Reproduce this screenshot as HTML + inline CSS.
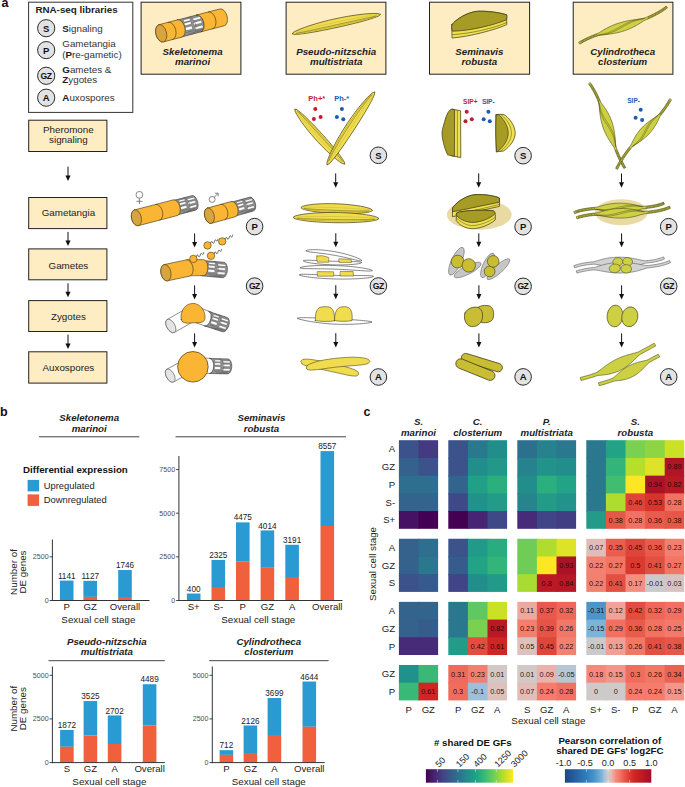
<!DOCTYPE html>
<html><head><meta charset="utf-8"><title>Figure</title>
<style>html,body{margin:0;padding:0;background:#fff;}svg{display:block;font-family:"Liberation Sans",sans-serif;}</style>
</head><body>
<svg width="685" height="787" viewBox="0 0 685 787">
<rect x="0" y="0" width="685" height="787" fill="#ffffff"/>
<text x="1.50" y="7.00" font-size="12.5" text-anchor="start" font-weight="bold" font-style="normal" fill="#111" >a</text>
<rect x="28.60" y="2.20" width="104.20" height="110.20" fill="#ffffff" stroke="#333" stroke-width="1" />
<text x="35.40" y="13.40" font-size="9.8" text-anchor="start" font-weight="bold" font-style="normal" fill="#222" >RNA-seq libraries</text>
<circle cx="46.20" cy="28.20" r="8.6" fill="#e2e2e2" stroke="#2a2a2a" stroke-width="1"/>
<text x="46.20" y="31.60" font-size="9.5" text-anchor="middle" font-weight="bold" font-style="normal" fill="#111" >S</text>
<circle cx="46.20" cy="50.10" r="8.6" fill="#e2e2e2" stroke="#2a2a2a" stroke-width="1"/>
<text x="46.20" y="53.50" font-size="9.5" text-anchor="middle" font-weight="bold" font-style="normal" fill="#111" >P</text>
<circle cx="46.20" cy="75.80" r="8.6" fill="#e2e2e2" stroke="#2a2a2a" stroke-width="1"/>
<text x="45.95" y="78.90" font-size="8.6" text-anchor="middle" font-weight="bold" font-style="normal" fill="#111" letter-spacing="-0.5">GZ</text>
<circle cx="46.20" cy="97.70" r="8.6" fill="#e2e2e2" stroke="#2a2a2a" stroke-width="1"/>
<text x="46.20" y="101.10" font-size="9.5" text-anchor="middle" font-weight="bold" font-style="normal" fill="#111" >A</text>
<text x="62.3" y="31.7" font-size="9.8" fill="#333"><tspan font-weight="bold" fill="#222">S</tspan>ignaling</text>
<text x="62.30" y="47.40" font-size="9.8" text-anchor="start" font-weight="normal" font-style="normal" fill="#333" >Gametangia</text>
<text x="62.3" y="57.8" font-size="9.8" fill="#333">(<tspan font-weight="bold" fill="#222">P</tspan>re-gametic)</text>
<text x="62.3" y="73.2" font-size="9.8" fill="#333"><tspan font-weight="bold" fill="#222">G</tspan>ametes &amp;</text>
<text x="62.3" y="83.4" font-size="9.8" fill="#333"><tspan font-weight="bold" fill="#222">Z</tspan>ygotes</text>
<text x="62.3" y="100.6" font-size="9.8" fill="#333"><tspan font-weight="bold" fill="#222">A</tspan>uxospores</text>
<rect x="28.70" y="120.20" width="78.20" height="31.30" fill="#feecc2" stroke="#222" stroke-width="1" />
<text x="68.40" y="132.50" font-size="9.8" text-anchor="middle" font-weight="normal" font-style="normal" fill="#222" >Pheromone</text>
<text x="68.40" y="142.80" font-size="9.8" text-anchor="middle" font-weight="normal" font-style="normal" fill="#222" >signaling</text>
<line x1="68.00" y1="166.60" x2="68.00" y2="176.50" stroke="#111" stroke-width="1.0" />
<path d="M65.40,175.50 L70.60,175.50 L68.00,181.00 Z" fill="#111"/>
<rect x="28.70" y="197.50" width="78.20" height="31.10" fill="#feecc2" stroke="#222" stroke-width="1" />
<text x="68.40" y="215.70" font-size="9.8" text-anchor="middle" font-weight="normal" font-style="normal" fill="#222" >Gametangia</text>
<rect x="28.70" y="248.90" width="78.20" height="30.90" fill="#feecc2" stroke="#222" stroke-width="1" />
<text x="68.40" y="268.60" font-size="9.8" text-anchor="middle" font-weight="normal" font-style="normal" fill="#222" >Gametes</text>
<rect x="28.70" y="300.60" width="78.20" height="30.90" fill="#feecc2" stroke="#222" stroke-width="1" />
<text x="68.40" y="319.80" font-size="9.8" text-anchor="middle" font-weight="normal" font-style="normal" fill="#222" >Zygotes</text>
<rect x="28.70" y="351.80" width="78.20" height="31.30" fill="#feecc2" stroke="#222" stroke-width="1" />
<text x="68.40" y="371.20" font-size="9.8" text-anchor="middle" font-weight="normal" font-style="normal" fill="#222" >Auxospores</text>
<line x1="68.00" y1="231.90" x2="68.00" y2="241.50" stroke="#111" stroke-width="1.0" />
<path d="M65.40,240.50 L70.60,240.50 L68.00,246.00 Z" fill="#111"/>
<line x1="68.00" y1="283.30" x2="68.00" y2="292.70" stroke="#111" stroke-width="1.0" />
<path d="M65.40,291.70 L70.60,291.70 L68.00,297.20 Z" fill="#111"/>
<line x1="68.00" y1="334.70" x2="68.00" y2="344.50" stroke="#111" stroke-width="1.0" />
<path d="M65.40,343.50 L70.60,343.50 L68.00,349.00 Z" fill="#111"/>
<rect x="141.10" y="2.20" width="99.80" height="72.00" fill="#feecc2" stroke="#222" stroke-width="1" />
<text x="192.60" y="55.20" font-size="9.72" text-anchor="middle" font-weight="bold" font-style="italic" fill="#222" >Skeletonema</text>
<text x="192.60" y="65.40" font-size="9.72" text-anchor="middle" font-weight="bold" font-style="italic" fill="#222" >marinoi</text>
<rect x="286.10" y="2.20" width="99.80" height="72.00" fill="#feecc2" stroke="#222" stroke-width="1" />
<text x="336.20" y="55.20" font-size="9.72" text-anchor="middle" font-weight="bold" font-style="italic" fill="#222" >Pseudo-nitzschia</text>
<text x="336.20" y="65.40" font-size="9.72" text-anchor="middle" font-weight="bold" font-style="italic" fill="#222" >multistriata</text>
<rect x="429.50" y="2.20" width="100.10" height="72.00" fill="#feecc2" stroke="#222" stroke-width="1" />
<text x="479.40" y="55.20" font-size="9.72" text-anchor="middle" font-weight="bold" font-style="italic" fill="#222" >Seminavis</text>
<text x="479.40" y="65.40" font-size="9.72" text-anchor="middle" font-weight="bold" font-style="italic" fill="#222" >robusta</text>
<rect x="573.20" y="2.20" width="99.70" height="72.00" fill="#feecc2" stroke="#222" stroke-width="1" />
<text x="622.70" y="55.20" font-size="9.72" text-anchor="middle" font-weight="bold" font-style="italic" fill="#222" >Cylindrotheca</text>
<text x="622.70" y="65.40" font-size="9.72" text-anchor="middle" font-weight="bold" font-style="italic" fill="#222" >closterium</text>
<g transform="translate(179.58,28.49) rotate(-14.66)">
<path d="M0,-8.7 L20,-8.7 A5.22,8.7 0 0 1 20,8.7 L0,8.7 A5.22,8.7 0 0 1 0,-8.7 Z" fill="#909090" stroke="#3c3c3c" stroke-width="0.6" stroke-linejoin="round" stroke-linecap="round" />
<rect x="5.55" y="-7.31" width="7.06" height="2.26" rx="0.9" fill="#ffffff" stroke="#3c3c3c" stroke-width="0.35"/>
<rect x="5.55" y="-4" width="7.06" height="2.78" rx="0.9" fill="#ffffff" stroke="#3c3c3c" stroke-width="0.35"/>
<rect x="5.55" y="0.52" width="7.06" height="3.31" rx="0.9" fill="#ffffff" stroke="#3c3c3c" stroke-width="0.35"/>
<rect x="14.63" y="-6.44" width="8.57" height="2.44" rx="0.9" fill="#ffffff" stroke="#3c3c3c" stroke-width="0.35"/>
<rect x="14.63" y="-2.44" width="8.57" height="2.78" rx="0.9" fill="#ffffff" stroke="#3c3c3c" stroke-width="0.35"/>
<rect x="14.63" y="2.44" width="8.57" height="2.78" rx="0.9" fill="#ffffff" stroke="#3c3c3c" stroke-width="0.35"/>
<line x1="5.55" y1="5.74" x2="13.87" y2="5.39" stroke="#4a4a4a" stroke-width="0.4"/>
<line x1="14.63" y1="6.79" x2="23.45" y2="6.44" stroke="#4a4a4a" stroke-width="0.4"/>
<line x1="7.57" y1="7.83" x2="20.18" y2="7.48" stroke="#4a4a4a" stroke-width="0.4"/>
<path d="M11.28,-8.7 A5.22,8.7 0 0 1 11.28,8.7" fill="none" stroke="#555" stroke-width="0.45" stroke-linejoin="round" stroke-linecap="round" />
</g>
<g transform="translate(198.63,23.43) rotate(-14.48)">
<path d="M0,-8.7 L24.14,-8.7 A5.22,8.7 0 0 1 24.14,8.7 L0,8.7 A5.22,8.7 0 0 0 0,-8.7 Z" fill="#f9b533" stroke="#4a3a12" stroke-width="0.6" stroke-linejoin="round" stroke-linecap="round" />
<path d="M12.3,-8.7 A5.22,8.7 0 0 1 12.3,8.7" fill="none" stroke="#4a3a12" stroke-width="0.6" stroke-linejoin="round" stroke-linecap="round" />
</g>
<g transform="translate(161.2,33.3) rotate(-14.66)">
<path d="M0,-8.9 L19,-8.9 A5.34,8.9 0 0 1 19,8.9 L0,8.9 A5.34,8.9 0 0 1 0,-8.9 Z" fill="#f9b533" stroke="#4a3a12" stroke-width="0.6" stroke-linejoin="round" stroke-linecap="round" />
<path d="M9.6,-8.9 A5.34,8.9 0 0 1 9.6,8.9" fill="none" stroke="#4a3a12" stroke-width="0.6" stroke-linejoin="round" stroke-linecap="round" />
<ellipse cx="0" cy="0" rx="5.34" ry="8.9" fill="#d8a440" stroke="#4a3a12" stroke-width="0.6"  />
</g>
<circle cx="139.4" cy="194.8" r="3.4" fill="none" stroke="#555" stroke-width="0.7" />
<path d="M139.4,198.2 L139.4,204.2 M136.4,201.3 L142.4,201.3" stroke="#555" stroke-width="0.7" fill="none"/>
<circle cx="212.1" cy="199.4" r="3" fill="none" stroke="#555" stroke-width="0.7" />
<path d="M214.3,197.2 L217.9,193.4 M214.9,193.2 L218.1,193.2 L218.1,196.4" stroke="#555" stroke-width="0.7" fill="none"/>
<g transform="translate(175.12,207.76) rotate(-14.54)">
<path d="M0,-7.5 L19.2,-7.5 A4.12,7.5 0 0 1 19.2,7.5 L0,7.5 A4.12,7.5 0 0 1 0,-7.5 Z" fill="#909090" stroke="#3c3c3c" stroke-width="0.6" stroke-linejoin="round" stroke-linecap="round" />
<rect x="5.13" y="-6.3" width="6.53" height="1.95" rx="0.9" fill="#ffffff" stroke="#3c3c3c" stroke-width="0.35"/>
<rect x="5.13" y="-3.45" width="6.53" height="2.4" rx="0.9" fill="#ffffff" stroke="#3c3c3c" stroke-width="0.35"/>
<rect x="5.13" y="0.45" width="6.53" height="2.85" rx="0.9" fill="#ffffff" stroke="#3c3c3c" stroke-width="0.35"/>
<rect x="13.53" y="-5.55" width="7.93" height="2.1" rx="0.9" fill="#ffffff" stroke="#3c3c3c" stroke-width="0.35"/>
<rect x="13.53" y="-2.1" width="7.93" height="2.4" rx="0.9" fill="#ffffff" stroke="#3c3c3c" stroke-width="0.35"/>
<rect x="13.53" y="2.1" width="7.93" height="2.4" rx="0.9" fill="#ffffff" stroke="#3c3c3c" stroke-width="0.35"/>
<line x1="5.13" y1="4.95" x2="12.83" y2="4.65" stroke="#4a4a4a" stroke-width="0.4"/>
<line x1="13.53" y1="5.85" x2="21.69" y2="5.55" stroke="#4a4a4a" stroke-width="0.4"/>
<line x1="7" y1="6.75" x2="18.66" y2="6.45" stroke="#4a4a4a" stroke-width="0.4"/>
<path d="M10.71,-7.5 A4.12,7.5 0 0 1 10.71,7.5" fill="none" stroke="#555" stroke-width="0.45" stroke-linejoin="round" stroke-linecap="round" />
</g>
<g transform="translate(136.4,217.8) rotate(-14.54)">
<path d="M0,-8.1 L40,-8.1 A4.86,8.1 0 0 1 40,8.1 L0,8.1 A4.86,8.1 0 0 1 0,-8.1 Z" fill="#f9b533" stroke="#4a3a12" stroke-width="0.6" stroke-linejoin="round" stroke-linecap="round" />
<path d="M22,-8.1 A4.86,8.1 0 0 1 22,8.1" fill="none" stroke="#4a3a12" stroke-width="0.6" stroke-linejoin="round" stroke-linecap="round" />
<ellipse cx="0" cy="0" rx="4.86" ry="8.1" fill="#d8a440" stroke="#4a3a12" stroke-width="0.6"  />
</g>
<g transform="translate(233.12,209.18) rotate(-15.36)">
<path d="M0,-7.2 L19,-7.2 A3.96,7.2 0 0 1 19,7.2 L0,7.2 A3.96,7.2 0 0 1 0,-7.2 Z" fill="#909090" stroke="#3c3c3c" stroke-width="0.6" stroke-linejoin="round" stroke-linecap="round" />
<rect x="5.05" y="-6.05" width="6.43" height="1.87" rx="0.9" fill="#ffffff" stroke="#3c3c3c" stroke-width="0.35"/>
<rect x="5.05" y="-3.31" width="6.43" height="2.3" rx="0.9" fill="#ffffff" stroke="#3c3c3c" stroke-width="0.35"/>
<rect x="5.05" y="0.43" width="6.43" height="2.74" rx="0.9" fill="#ffffff" stroke="#3c3c3c" stroke-width="0.35"/>
<rect x="13.32" y="-5.33" width="7.81" height="2.02" rx="0.9" fill="#ffffff" stroke="#3c3c3c" stroke-width="0.35"/>
<rect x="13.32" y="-2.02" width="7.81" height="2.3" rx="0.9" fill="#ffffff" stroke="#3c3c3c" stroke-width="0.35"/>
<rect x="13.32" y="2.02" width="7.81" height="2.3" rx="0.9" fill="#ffffff" stroke="#3c3c3c" stroke-width="0.35"/>
<line x1="5.05" y1="4.75" x2="12.63" y2="4.46" stroke="#4a4a4a" stroke-width="0.4"/>
<line x1="13.32" y1="5.62" x2="21.35" y2="5.33" stroke="#4a4a4a" stroke-width="0.4"/>
<line x1="6.89" y1="6.48" x2="18.37" y2="6.19" stroke="#4a4a4a" stroke-width="0.4"/>
<path d="M10.58,-7.2 A3.96,7.2 0 0 1 10.58,7.2" fill="none" stroke="#555" stroke-width="0.45" stroke-linejoin="round" stroke-linecap="round" />
</g>
<g transform="translate(209.4,215.7) rotate(-15.36)">
<path d="M0,-7.9 L24.6,-7.9 A4.74,7.9 0 0 1 24.6,7.9 L0,7.9 A4.74,7.9 0 0 1 0,-7.9 Z" fill="#f9b533" stroke="#4a3a12" stroke-width="0.6" stroke-linejoin="round" stroke-linecap="round" />
<path d="M14,-7.9 A4.74,7.9 0 0 1 14,7.9" fill="none" stroke="#4a3a12" stroke-width="0.6" stroke-linejoin="round" stroke-linecap="round" />
<ellipse cx="0" cy="0" rx="4.74" ry="7.9" fill="#d8a440" stroke="#4a3a12" stroke-width="0.6"  />
</g>
<circle cx="254.6" cy="226.6" r="8.3" fill="#e2e2e2" stroke="#2a2a2a" stroke-width="1"/>
<text x="254.6" y="230" font-size="9.5" text-anchor="middle" font-weight="bold" fill="#111">P</text>
<line x1="194.6" y1="233.4" x2="194.6" y2="243" stroke="#111" stroke-width="1.0"/>
<path d="M192.1,242 L197.1,242 L194.6,247.5 Z" fill="#111"/>
<path d="M210.65,243.37 c0.3,-2.4 1.4,-2.4 1.9,-0.9 s1.5,0.9 2.0,-1.2 s1.3,-1.3 2.1,-0.5 s1.0,-0.6 1.3,-1.7" fill="none" stroke="#444" stroke-width="0.85" stroke-linejoin="round" stroke-linecap="round" />
<circle cx="207.5" cy="245.4" r="3.7" fill="#f9b533" stroke="#4a3a12" stroke-width="0.6" />
<path d="M225.34,239.37 c0.3,-2.4 1.4,-2.4 1.9,-0.9 s1.5,0.9 2.0,-1.2 s1.3,-1.3 2.1,-0.5 s1.0,-0.6 1.3,-1.7" fill="none" stroke="#444" stroke-width="0.85" stroke-linejoin="round" stroke-linecap="round" />
<circle cx="222.2" cy="241.4" r="3.7" fill="#f9b533" stroke="#4a3a12" stroke-width="0.6" />
<path d="M214.15,253.77 c0.3,-2.4 1.4,-2.4 1.9,-0.9 s1.5,0.9 2.0,-1.2 s1.3,-1.3 2.1,-0.5 s1.0,-0.6 1.3,-1.7" fill="none" stroke="#444" stroke-width="0.85" stroke-linejoin="round" stroke-linecap="round" />
<circle cx="211" cy="255.8" r="3.7" fill="#f9b533" stroke="#4a3a12" stroke-width="0.6" />
<g transform="translate(202.6,268.2) rotate(4.99)">
<path d="M0,-7.7 L20.68,-7.7 A4.24,7.7 0 0 1 20.68,7.7 L0,7.7 A4.24,7.7 0 0 1 0,-7.7 Z" fill="#909090" stroke="#3c3c3c" stroke-width="0.6" stroke-linejoin="round" stroke-linecap="round" />
<rect x="5.48" y="-6.47" width="6.98" height="2" rx="0.9" fill="#ffffff" stroke="#3c3c3c" stroke-width="0.35"/>
<rect x="5.48" y="-3.54" width="6.98" height="2.46" rx="0.9" fill="#ffffff" stroke="#3c3c3c" stroke-width="0.35"/>
<rect x="5.48" y="0.46" width="6.98" height="2.93" rx="0.9" fill="#ffffff" stroke="#3c3c3c" stroke-width="0.35"/>
<rect x="14.45" y="-5.7" width="8.47" height="2.16" rx="0.9" fill="#ffffff" stroke="#3c3c3c" stroke-width="0.35"/>
<rect x="14.45" y="-2.16" width="8.47" height="2.46" rx="0.9" fill="#ffffff" stroke="#3c3c3c" stroke-width="0.35"/>
<rect x="14.45" y="2.16" width="8.47" height="2.46" rx="0.9" fill="#ffffff" stroke="#3c3c3c" stroke-width="0.35"/>
<line x1="5.48" y1="5.08" x2="13.7" y2="4.77" stroke="#4a4a4a" stroke-width="0.4"/>
<line x1="14.45" y1="6.01" x2="23.17" y2="5.7" stroke="#4a4a4a" stroke-width="0.4"/>
<line x1="7.47" y1="6.93" x2="19.93" y2="6.62" stroke="#4a4a4a" stroke-width="0.4"/>
<path d="M11.51,-7.7 A4.24,7.7 0 0 1 11.51,7.7" fill="none" stroke="#555" stroke-width="0.45" stroke-linejoin="round" stroke-linecap="round" />
</g>
<g transform="translate(187,267.8) rotate(-0.7)">
<path d="M0,-8 L16.4,-8 A4.4,8 0 0 1 16.4,8 L0,8 A4.4,8 0 0 0 0,-8 Z" fill="#f9b533" stroke="#4a3a12" stroke-width="0.6" stroke-linejoin="round" stroke-linecap="round" />
</g>
<g transform="translate(165.9,272.7) rotate(-12.01)">
<path d="M0,-8.3 L22.59,-8.3 A4.98,8.3 0 0 1 22.59,8.3 L0,8.3 A4.98,8.3 0 0 1 0,-8.3 Z" fill="#f9b533" stroke="#4a3a12" stroke-width="0.6" stroke-linejoin="round" stroke-linecap="round" />
<ellipse cx="0" cy="0" rx="4.98" ry="8.3" fill="#d8a440" stroke="#4a3a12" stroke-width="0.6"  />
</g>
<path d="M196.45,256.86 c0.3,-2.4 1.4,-2.4 1.9,-0.9 s1.5,0.9 2.0,-1.2 s1.3,-1.3 2.1,-0.5 s1.0,-0.6 1.3,-1.7" fill="none" stroke="#444" stroke-width="0.85" stroke-linejoin="round" stroke-linecap="round" />
<circle cx="193.3" cy="258.9" r="3.7" fill="#f9b533" stroke="#4a3a12" stroke-width="0.6" />
<circle cx="254.6" cy="286.1" r="8.3" fill="#e2e2e2" stroke="#2a2a2a" stroke-width="1"/>
<text x="254.4" y="289.2" font-size="8.6" text-anchor="middle" font-weight="bold" fill="#111" letter-spacing="-0.5">GZ</text>
<line x1="194.6" y1="285.4" x2="194.6" y2="295.1" stroke="#111" stroke-width="1.0"/>
<path d="M192.1,294.1 L197.1,294.1 L194.6,299.6 Z" fill="#111"/>
<g transform="translate(198,315.4) rotate(19.72)">
<path d="M0,-7.6 L11.26,-7.6 A4.18,7.6 0 0 1 11.26,7.6 L0,7.6 A4.18,7.6 0 0 0 0,-7.6 Z" fill="#ffffff" stroke="#555" stroke-width="0.6" stroke-linejoin="round" stroke-linecap="round" />
</g>
<g transform="translate(206.6,318.7) rotate(17.96)">
<path d="M0,-7.5 L19.13,-7.5 A4.12,7.5 0 0 1 19.13,7.5 L0,7.5 A4.12,7.5 0 0 0 0,-7.5 Z" fill="#909090" stroke="#3c3c3c" stroke-width="0.6" stroke-linejoin="round" stroke-linecap="round" />
<rect x="5.12" y="-6.3" width="6.51" height="1.95" rx="0.9" fill="#ffffff" stroke="#3c3c3c" stroke-width="0.35"/>
<rect x="5.12" y="-3.45" width="6.51" height="2.4" rx="0.9" fill="#ffffff" stroke="#3c3c3c" stroke-width="0.35"/>
<rect x="5.12" y="0.45" width="6.51" height="2.85" rx="0.9" fill="#ffffff" stroke="#3c3c3c" stroke-width="0.35"/>
<rect x="13.49" y="-5.55" width="7.91" height="2.1" rx="0.9" fill="#ffffff" stroke="#3c3c3c" stroke-width="0.35"/>
<rect x="13.49" y="-2.1" width="7.91" height="2.4" rx="0.9" fill="#ffffff" stroke="#3c3c3c" stroke-width="0.35"/>
<rect x="13.49" y="2.1" width="7.91" height="2.4" rx="0.9" fill="#ffffff" stroke="#3c3c3c" stroke-width="0.35"/>
<line x1="5.12" y1="4.95" x2="12.79" y2="4.65" stroke="#4a4a4a" stroke-width="0.4"/>
<line x1="13.49" y1="5.85" x2="21.63" y2="5.55" stroke="#4a4a4a" stroke-width="0.4"/>
<line x1="6.98" y1="6.75" x2="18.61" y2="6.45" stroke="#4a4a4a" stroke-width="0.4"/>
<path d="M10.68,-7.5 A4.12,7.5 0 0 1 10.68,7.5" fill="none" stroke="#555" stroke-width="0.45" stroke-linejoin="round" stroke-linecap="round" />
</g>
<g transform="translate(170.8,326) rotate(-29.81)">
<path d="M0,-7.4 L22.13,-7.4 A4.07,7.4 0 0 1 22.13,7.4 L0,7.4 A4.07,7.4 0 0 1 0,-7.4 Z" fill="#ffffff" stroke="#555" stroke-width="0.6" stroke-linejoin="round" stroke-linecap="round" />
<ellipse cx="0" cy="0" rx="4.07" ry="7.4" fill="#e4e4e4" stroke="#555" stroke-width="0.6"  />
</g>
<path d="M181.2,319.4 C180.0,311.6 184.6,303.6 193.0,303.4 C200.0,303.4 205.6,310.6 205.0,318.2 C204.6,323.4 198.6,322.6 193.6,322.8 C188.6,323.0 182.2,324.4 181.2,319.4 Z" fill="#f9b533" stroke="#4a3a12" stroke-width="0.6" stroke-linejoin="round" stroke-linecap="round" />
<line x1="194.6" y1="333.4" x2="194.6" y2="343.1" stroke="#111" stroke-width="1.0"/>
<path d="M192.1,342.1 L197.1,342.1 L194.6,347.6 Z" fill="#111"/>
<g transform="translate(200,365.4) rotate(2.86)">
<path d="M0,-7.6 L10.01,-7.6 A4.18,7.6 0 0 1 10.01,7.6 L0,7.6 A4.18,7.6 0 0 0 0,-7.6 Z" fill="#ffffff" stroke="#555" stroke-width="0.6" stroke-linejoin="round" stroke-linecap="round" />
</g>
<g transform="translate(209.6,366) rotate(1.27)">
<path d="M0,-7.5 L18.1,-7.5 A4.12,7.5 0 0 1 18.1,7.5 L0,7.5 A4.12,7.5 0 0 0 0,-7.5 Z" fill="#909090" stroke="#3c3c3c" stroke-width="0.6" stroke-linejoin="round" stroke-linecap="round" />
<rect x="4.89" y="-6.3" width="6.22" height="1.95" rx="0.9" fill="#ffffff" stroke="#3c3c3c" stroke-width="0.35"/>
<rect x="4.89" y="-3.45" width="6.22" height="2.4" rx="0.9" fill="#ffffff" stroke="#3c3c3c" stroke-width="0.35"/>
<rect x="4.89" y="0.45" width="6.22" height="2.85" rx="0.9" fill="#ffffff" stroke="#3c3c3c" stroke-width="0.35"/>
<rect x="12.89" y="-5.55" width="7.56" height="2.1" rx="0.9" fill="#ffffff" stroke="#3c3c3c" stroke-width="0.35"/>
<rect x="12.89" y="-2.1" width="7.56" height="2.4" rx="0.9" fill="#ffffff" stroke="#3c3c3c" stroke-width="0.35"/>
<rect x="12.89" y="2.1" width="7.56" height="2.4" rx="0.9" fill="#ffffff" stroke="#3c3c3c" stroke-width="0.35"/>
<line x1="4.89" y1="4.95" x2="12.23" y2="4.65" stroke="#4a4a4a" stroke-width="0.4"/>
<line x1="12.89" y1="5.85" x2="20.67" y2="5.55" stroke="#4a4a4a" stroke-width="0.4"/>
<line x1="6.67" y1="6.75" x2="17.78" y2="6.45" stroke="#4a4a4a" stroke-width="0.4"/>
<path d="M10.13,-7.5 A4.12,7.5 0 0 1 10.13,7.5" fill="none" stroke="#555" stroke-width="0.45" stroke-linejoin="round" stroke-linecap="round" />
</g>
<g transform="translate(170.2,375.6) rotate(-28.56)">
<path d="M0,-7.2 L17.99,-7.2 A3.96,7.2 0 0 1 17.99,7.2 L0,7.2 A3.96,7.2 0 0 1 0,-7.2 Z" fill="#ffffff" stroke="#555" stroke-width="0.6" stroke-linejoin="round" stroke-linecap="round" />
<ellipse cx="0" cy="0" rx="3.96" ry="7.2" fill="#e4e4e4" stroke="#555" stroke-width="0.6"  />
</g>
<circle cx="192.9" cy="366.8" r="15.3" fill="#f9b533" stroke="#4a3a12" stroke-width="0.7" />
<path d="M292,33.8 L294.5,34.38 L296.83,34.32 L299.12,34.15 L301.4,33.91 L303.66,33.63 L305.92,33.32 L308.16,32.98 L310.4,32.62 L312.64,32.25 L314.87,31.86 L317.1,31.46 L319.32,31.04 L321.54,30.62 L323.76,30.19 L325.98,29.74 L328.19,29.29 L330.4,28.84 L332.61,28.37 L334.82,27.9 L337.03,27.42 L339.23,26.93 L341.44,26.44 L343.64,25.94 L345.84,25.43 L348.04,24.91 L350.23,24.39 L352.43,23.86 L354.63,23.31 L356.82,22.76 L359.01,22.19 L361.2,21.61 L363.39,21.02 L365.57,20.41 L367.76,19.78 L369.93,19.12 L372.11,18.43 L374.28,17.7 L376.43,16.89 L378.57,15.97 L380.6,14.4 L380.6,14.4 L378.16,13.61 L375.83,13.48 L373.52,13.47 L371.22,13.55 L368.93,13.67 L366.65,13.85 L364.37,14.05 L362.1,14.29 L359.83,14.55 L357.57,14.84 L355.31,15.15 L353.06,15.49 L350.8,15.84 L348.56,16.21 L346.31,16.6 L344.07,17.01 L341.83,17.44 L339.6,17.88 L337.37,18.35 L335.14,18.82 L332.92,19.32 L330.7,19.83 L328.49,20.36 L326.28,20.91 L324.07,21.47 L321.87,22.06 L319.67,22.66 L317.48,23.28 L315.29,23.92 L313.11,24.58 L310.93,25.26 L308.76,25.97 L306.6,26.7 L304.44,27.47 L302.3,28.26 L300.17,29.1 L298.05,30 L295.95,30.96 L293.89,32.06 L292,33.8 Z" fill="#f0dc4c" stroke="#3c3a12" stroke-width="0.7" stroke-linejoin="round" />
<path d="M296.68,33.75 L298.94,33.45 L301.19,33.1 L303.43,32.72 L305.67,32.32 L307.9,31.91 L310.13,31.49 L312.35,31.06 L314.57,30.62 L316.79,30.17 L319.01,29.72 L321.23,29.27 L323.44,28.8 L325.65,28.34 L327.87,27.87 L330.08,27.4 L332.29,26.92 L334.5,26.44 L336.71,25.96 L338.92,25.47 L341.12,24.99 L343.33,24.49 L345.54,24 L347.74,23.5 L349.95,23 L352.15,22.49 L354.36,21.98 L356.56,21.47 L358.76,20.94 L360.97,20.41 L363.17,19.88 L365.37,19.33 L367.57,18.77 L369.76,18.2 L371.96,17.6 L374.15,16.98 L376.33,16.31" fill="none" stroke="#c4b434" stroke-width="0.9" stroke-linecap="round" stroke-linejoin="round" />
<path d="M296.56,33.28 L298.79,32.86 L301.02,32.42 L303.24,31.97 L305.46,31.5 L307.68,31.03 L309.9,30.56 L312.11,30.08 L314.32,29.6 L316.54,29.12 L318.75,28.63 L320.96,28.15 L323.18,27.67 L325.39,27.18 L327.6,26.7 L329.81,26.21 L332.02,25.73 L334.23,25.24 L336.44,24.76 L338.66,24.27 L340.87,23.79 L343.08,23.31 L345.29,22.82 L347.5,22.34 L349.71,21.85 L351.93,21.37 L354.14,20.89 L356.35,20.4 L358.56,19.91 L360.78,19.43 L362.99,18.93 L365.2,18.44 L367.41,17.94 L369.62,17.43 L371.83,16.92 L374.04,16.39 L376.24,15.83" fill="none" stroke="#5a5518" stroke-width="0.5" stroke-linecap="round" stroke-linejoin="round" />
<path d="M296.3,32.31 L298.48,31.66 L300.66,31.03 L302.85,30.41 L305.03,29.81 L307.23,29.21 L309.42,28.63 L311.61,28.05 L313.81,27.49 L316.01,26.93 L318.22,26.38 L320.42,25.84 L322.63,25.31 L324.83,24.78 L327.04,24.26 L329.25,23.75 L331.47,23.25 L333.68,22.75 L335.9,22.26 L338.12,21.78 L340.33,21.31 L342.56,20.84 L344.78,20.38 L347,19.93 L349.23,19.48 L351.45,19.05 L353.68,18.62 L355.91,18.2 L358.15,17.78 L360.38,17.38 L362.61,16.98 L364.85,16.6 L367.09,16.22 L369.33,15.85 L371.57,15.5 L373.82,15.16 L376.07,14.84" fill="none" stroke="#b3a630" stroke-width="0.35" stroke-linecap="round" stroke-linejoin="round" />
<text x="316.8" y="101.4" font-size="7.5" font-weight="bold" fill="#bf1e2e" text-anchor="middle">Ph+*</text>
<text x="341.7" y="101.4" font-size="7.5" font-weight="bold" fill="#1c5bb4" text-anchor="middle">Ph-*</text>
<circle cx="315.3" cy="109.1" r="2" fill="#bf1e2e" stroke="none" stroke-width="0.7" />
<circle cx="313.9" cy="118.9" r="2" fill="#bf1e2e" stroke="none" stroke-width="0.7" />
<circle cx="320.6" cy="117.1" r="2" fill="#bf1e2e" stroke="none" stroke-width="0.7" />
<circle cx="341.9" cy="109.1" r="2" fill="#1c5bb4" stroke="none" stroke-width="0.7" />
<circle cx="336.9" cy="117.1" r="2" fill="#1c5bb4" stroke="none" stroke-width="0.7" />
<circle cx="343.3" cy="119.2" r="2" fill="#1c5bb4" stroke="none" stroke-width="0.7" />
<path d="M294.8,109 L295.12,111.16 L295.92,112.93 L296.82,114.61 L297.78,116.24 L298.78,117.85 L299.81,119.42 L300.86,120.98 L301.94,122.52 L303.04,124.04 L304.15,125.55 L305.29,127.04 L306.44,128.52 L307.6,129.99 L308.77,131.45 L309.96,132.89 L311.16,134.33 L312.38,135.75 L313.61,137.16 L314.84,138.56 L316.09,139.96 L317.36,141.34 L318.63,142.71 L319.91,144.07 L321.21,145.42 L322.52,146.76 L323.84,148.08 L325.18,149.4 L326.52,150.7 L327.88,151.98 L329.26,153.26 L330.65,154.52 L332.05,155.76 L333.48,156.99 L334.92,158.19 L336.39,159.37 L337.89,160.52 L339.42,161.64 L341,162.7 L342.68,163.67 L344.8,164.2 L344.8,164.2 L344.31,162.07 L343.37,160.38 L342.35,158.78 L341.29,157.22 L340.19,155.7 L339.07,154.2 L337.94,152.71 L336.79,151.25 L335.63,149.79 L334.45,148.35 L333.27,146.91 L332.08,145.49 L330.88,144.07 L329.68,142.66 L328.47,141.25 L327.25,139.85 L326.03,138.46 L324.8,137.07 L323.56,135.69 L322.32,134.32 L321.07,132.95 L319.82,131.58 L318.56,130.22 L317.3,128.87 L316.03,127.52 L314.75,126.17 L313.46,124.83 L312.17,123.5 L310.87,122.18 L309.56,120.86 L308.23,119.55 L306.9,118.25 L305.55,116.96 L304.19,115.69 L302.81,114.42 L301.4,113.18 L299.95,111.97 L298.46,110.8 L296.87,109.7 L294.8,109 Z" fill="#f0dc4c" stroke="#3c3a12" stroke-width="0.7" stroke-linejoin="round" />
<path d="M298.03,111.16 L299.42,112.42 L300.78,113.7 L302.12,115.01 L303.44,116.32 L304.76,117.64 L306.06,118.98 L307.35,120.31 L308.64,121.66 L309.92,123 L311.19,124.36 L312.47,125.71 L313.73,127.07 L314.99,128.43 L316.25,129.79 L317.51,131.16 L318.76,132.53 L320.01,133.9 L321.26,135.28 L322.51,136.65 L323.75,138.03 L324.99,139.41 L326.22,140.8 L327.46,142.19 L328.69,143.58 L329.91,144.97 L331.14,146.37 L332.36,147.77 L333.57,149.18 L334.78,150.59 L335.98,152.01 L337.18,153.44 L338.37,154.88 L339.55,156.32 L340.71,157.78 L341.85,159.27 L342.97,160.78" fill="none" stroke="#c4b434" stroke-width="0.9" stroke-linecap="round" stroke-linejoin="round" />
<path d="M297.67,111.46 L298.98,112.79 L300.27,114.13 L301.56,115.48 L302.83,116.84 L304.1,118.21 L305.36,119.57 L306.62,120.94 L307.88,122.31 L309.14,123.68 L310.39,125.06 L311.64,126.43 L312.9,127.81 L314.15,129.18 L315.4,130.56 L316.65,131.93 L317.89,133.31 L319.14,134.69 L320.39,136.07 L321.64,137.44 L322.88,138.82 L324.13,140.2 L325.38,141.58 L326.62,142.96 L327.87,144.34 L329.11,145.72 L330.36,147.1 L331.6,148.48 L332.84,149.87 L334.08,151.26 L335.32,152.65 L336.56,154.04 L337.79,155.43 L339.01,156.84 L340.23,158.25 L341.44,159.67 L342.64,161.1" fill="none" stroke="#5a5518" stroke-width="0.5" stroke-linecap="round" stroke-linejoin="round" />
<path d="M296.93,112.07 L298.07,113.55 L299.22,115.02 L300.39,116.48 L301.56,117.93 L302.74,119.37 L303.92,120.81 L305.12,122.24 L306.32,123.67 L307.52,125.09 L308.73,126.51 L309.94,127.93 L311.16,129.34 L312.39,130.74 L313.62,132.14 L314.85,133.54 L316.09,134.93 L317.34,136.32 L318.58,137.7 L319.84,139.08 L321.1,140.46 L322.36,141.83 L323.63,143.19 L324.9,144.55 L326.18,145.91 L327.46,147.26 L328.75,148.61 L330.04,149.96 L331.34,151.29 L332.64,152.63 L333.95,153.96 L335.26,155.28 L336.58,156.59 L337.91,157.9 L339.25,159.2 L340.59,160.5 L341.95,161.77" fill="none" stroke="#b3a630" stroke-width="0.35" stroke-linecap="round" stroke-linejoin="round" />
<path d="M374.8,91.8 L372.5,92.83 L370.75,94.27 L369.12,95.79 L367.55,97.37 L366.03,98.98 L364.54,100.62 L363.09,102.28 L361.66,103.96 L360.26,105.66 L358.88,107.38 L357.52,109.11 L356.17,110.85 L354.85,112.61 L353.54,114.38 L352.25,116.16 L350.98,117.95 L349.72,119.75 L348.48,121.57 L347.25,123.39 L346.04,125.23 L344.85,127.07 L343.67,128.93 L342.51,130.8 L341.36,132.67 L340.24,134.56 L339.12,136.46 L338.03,138.37 L336.95,140.29 L335.9,142.22 L334.86,144.16 L333.85,146.11 L332.85,148.08 L331.89,150.06 L330.95,152.06 L330.05,154.08 L329.18,156.12 L328.37,158.19 L327.63,160.3 L327.02,162.48 L327,165 L327,165 L329.18,163.73 L330.77,162.13 L332.24,160.47 L333.65,158.77 L335.02,157.04 L336.36,155.31 L337.68,153.56 L338.98,151.8 L340.26,150.03 L341.53,148.26 L342.79,146.48 L344.04,144.69 L345.28,142.9 L346.51,141.11 L347.73,139.31 L348.95,137.51 L350.16,135.7 L351.36,133.89 L352.56,132.08 L353.75,130.26 L354.93,128.44 L356.11,126.61 L357.29,124.78 L358.45,122.95 L359.61,121.11 L360.77,119.27 L361.92,117.42 L363.06,115.57 L364.19,113.71 L365.31,111.84 L366.43,109.96 L367.53,108.08 L368.62,106.18 L369.69,104.27 L370.74,102.34 L371.77,100.4 L372.76,98.42 L373.69,96.4 L374.52,94.3 L374.8,91.8 Z" fill="#f0dc4c" stroke="#3c3a12" stroke-width="0.7" stroke-linejoin="round" />
<path d="M371.25,94.63 L369.74,96.24 L368.27,97.89 L366.83,99.55 L365.42,101.24 L364.03,102.94 L362.66,104.66 L361.31,106.39 L359.97,108.14 L358.65,109.89 L357.34,111.65 L356.05,113.43 L354.77,115.21 L353.5,117 L352.25,118.8 L351.01,120.61 L349.78,122.43 L348.56,124.25 L347.35,126.08 L346.16,127.92 L344.98,129.77 L343.81,131.63 L342.65,133.5 L341.51,135.37 L340.38,137.25 L339.26,139.14 L338.16,141.03 L337.07,142.94 L335.99,144.85 L334.94,146.78 L333.9,148.71 L332.87,150.66 L331.87,152.61 L330.89,154.58 L329.94,156.57 L329.03,158.58 L328.17,160.61" fill="none" stroke="#c4b434" stroke-width="0.9" stroke-linecap="round" stroke-linejoin="round" />
<path d="M371.66,94.93 L370.24,96.61 L368.86,98.31 L367.49,100.02 L366.14,101.75 L364.8,103.49 L363.48,105.24 L362.17,107 L360.87,108.76 L359.59,110.53 L358.31,112.31 L357.04,114.1 L355.78,115.89 L354.53,117.69 L353.3,119.5 L352.07,121.31 L350.85,123.13 L349.63,124.96 L348.43,126.79 L347.24,128.63 L346.05,130.47 L344.88,132.32 L343.71,134.17 L342.56,136.03 L341.41,137.9 L340.28,139.77 L339.15,141.65 L338.03,143.54 L336.93,145.43 L335.83,147.33 L334.75,149.23 L333.68,151.15 L332.63,153.07 L331.59,155 L330.57,156.94 L329.57,158.9 L328.6,160.87" fill="none" stroke="#5a5518" stroke-width="0.5" stroke-linecap="round" stroke-linejoin="round" />
<path d="M372.51,95.55 L371.3,97.37 L370.08,99.19 L368.86,101 L367.63,102.81 L366.41,104.62 L365.18,106.43 L363.96,108.24 L362.74,110.05 L361.52,111.87 L360.3,113.68 L359.09,115.5 L357.88,117.31 L356.67,119.13 L355.46,120.95 L354.26,122.77 L353.06,124.59 L351.86,126.42 L350.67,128.25 L349.47,130.08 L348.28,131.91 L347.1,133.74 L345.91,135.57 L344.73,137.41 L343.55,139.25 L342.38,141.09 L341.2,142.93 L340.03,144.77 L338.86,146.62 L337.7,148.46 L336.53,150.31 L335.36,152.16 L334.2,154.01 L333.03,155.86 L331.87,157.71 L330.69,159.56 L329.51,161.4" fill="none" stroke="#b3a630" stroke-width="0.35" stroke-linecap="round" stroke-linejoin="round" />
<circle cx="378.4" cy="155.3" r="8.3" fill="#e2e2e2" stroke="#2a2a2a" stroke-width="1"/>
<text x="378.4" y="158.7" font-size="9.5" text-anchor="middle" font-weight="bold" fill="#111">S</text>
<line x1="335.7" y1="173.4" x2="335.7" y2="183.3" stroke="#111" stroke-width="1.0"/>
<path d="M333.2,182.3 L338.2,182.3 L335.7,187.8 Z" fill="#111"/>
<path d="M300.8,207.6 L302.57,208.93 L304.36,209.56 L306.14,210.04 L307.93,210.44 L309.71,210.8 L311.5,211.11 L313.29,211.39 L315.07,211.64 L316.86,211.87 L318.65,212.08 L320.43,212.28 L322.22,212.46 L324.01,212.62 L325.8,212.77 L327.58,212.9 L329.37,213.03 L331.16,213.14 L332.95,213.23 L334.74,213.32 L336.53,213.4 L338.32,213.46 L340.11,213.51 L341.9,213.55 L343.69,213.58 L345.48,213.6 L347.28,213.6 L349.07,213.6 L350.86,213.57 L352.66,213.53 L354.46,213.48 L356.26,213.41 L358.05,213.32 L359.86,213.2 L361.66,213.06 L363.46,212.89 L365.27,212.68 L367.08,212.42 L368.9,212.07 L370.73,211.59 L372.6,210.4 L372.6,210.4 L370.88,208.99 L369.12,208.29 L367.35,207.74 L365.58,207.27 L363.8,206.86 L362.02,206.49 L360.23,206.15 L358.45,205.85 L356.66,205.57 L354.87,205.32 L353.07,205.09 L351.28,204.88 L349.49,204.68 L347.69,204.51 L345.9,204.35 L344.1,204.21 L342.3,204.08 L340.5,203.98 L338.7,203.88 L336.9,203.8 L335.1,203.74 L333.3,203.69 L331.5,203.66 L329.7,203.65 L327.89,203.65 L326.09,203.67 L324.29,203.7 L322.48,203.75 L320.68,203.82 L318.88,203.92 L317.07,204.03 L315.27,204.17 L313.46,204.33 L311.65,204.52 L309.85,204.75 L308.04,205.03 L306.24,205.36 L304.43,205.77 L302.62,206.33 L300.8,207.6 Z" fill="#f0dc4c" stroke="#3c3a12" stroke-width="0.7" stroke-linejoin="round" />
<path d="M304.37,208.91 L306.16,209.24 L307.95,209.52 L309.74,209.77 L311.53,209.99 L313.32,210.19 L315.11,210.37 L316.9,210.54 L318.69,210.7 L320.48,210.84 L322.27,210.98 L324.06,211.1 L325.85,211.22 L327.64,211.33 L329.43,211.43 L331.22,211.53 L333.01,211.61 L334.8,211.69 L336.59,211.77 L338.38,211.83 L340.18,211.89 L341.97,211.94 L343.76,211.99 L345.55,212.03 L347.35,212.06 L349.14,212.08 L350.94,212.09 L352.73,212.1 L354.53,212.09 L356.32,212.08 L358.12,212.05 L359.92,212.01 L361.72,211.95 L363.52,211.87 L365.32,211.76 L367.13,211.62 L368.94,211.43" fill="none" stroke="#c4b434" stroke-width="0.9" stroke-linecap="round" stroke-linejoin="round" />
<path d="M304.38,208.38 L306.17,208.59 L307.96,208.77 L309.76,208.92 L311.55,209.07 L313.34,209.2 L315.13,209.32 L316.93,209.44 L318.72,209.55 L320.51,209.66 L322.3,209.76 L324.1,209.85 L325.89,209.95 L327.68,210.03 L329.47,210.12 L331.27,210.2 L333.06,210.28 L334.85,210.35 L336.64,210.42 L338.44,210.49 L340.23,210.56 L342.02,210.62 L343.82,210.68 L345.61,210.73 L347.41,210.78 L349.2,210.83 L350.99,210.88 L352.79,210.92 L354.58,210.95 L356.38,210.98 L358.18,211 L359.97,211.02 L361.77,211.03 L363.57,211.02 L365.37,211 L367.17,210.97 L368.97,210.9" fill="none" stroke="#5a5518" stroke-width="0.5" stroke-linecap="round" stroke-linejoin="round" />
<path d="M304.4,207.29 L306.2,207.23 L308,207.19 L309.8,207.17 L311.59,207.16 L313.39,207.15 L315.19,207.16 L316.99,207.17 L318.78,207.18 L320.58,207.21 L322.38,207.23 L324.18,207.27 L325.97,207.31 L327.77,207.35 L329.57,207.4 L331.36,207.45 L333.16,207.51 L334.96,207.57 L336.75,207.64 L338.55,207.71 L340.34,207.79 L342.14,207.87 L343.94,207.96 L345.73,208.05 L347.53,208.15 L349.32,208.25 L351.11,208.35 L352.91,208.47 L354.7,208.58 L356.5,208.71 L358.29,208.84 L360.08,208.97 L361.87,209.12 L363.67,209.27 L365.46,209.44 L367.25,209.61 L369.04,209.81" fill="none" stroke="#b3a630" stroke-width="0.35" stroke-linecap="round" stroke-linejoin="round" />
<path d="M293,217.4 L295.16,218.78 L297.31,219.4 L299.46,219.87 L301.6,220.25 L303.75,220.59 L305.9,220.87 L308.05,221.13 L310.19,221.36 L312.34,221.56 L314.48,221.74 L316.63,221.9 L318.77,222.05 L320.92,222.18 L323.06,222.29 L325.21,222.39 L327.35,222.48 L329.5,222.55 L331.64,222.62 L333.79,222.66 L335.93,222.7 L338.08,222.72 L340.23,222.73 L342.37,222.73 L344.52,222.72 L346.66,222.69 L348.81,222.65 L350.96,222.6 L353.11,222.53 L355.25,222.44 L357.4,222.34 L359.55,222.22 L361.7,222.07 L363.86,221.91 L366.01,221.71 L368.16,221.48 L370.32,221.21 L372.48,220.89 L374.64,220.48 L376.81,219.92 L379,218.6 L379,218.6 L376.89,217.15 L374.76,216.45 L372.63,215.91 L370.48,215.46 L368.34,215.07 L366.2,214.72 L364.05,214.41 L361.9,214.13 L359.75,213.88 L357.61,213.66 L355.45,213.46 L353.3,213.28 L351.15,213.12 L349,212.98 L346.85,212.86 L344.69,212.75 L342.54,212.66 L340.39,212.59 L338.23,212.54 L336.08,212.5 L333.92,212.48 L331.77,212.47 L329.61,212.48 L327.46,212.51 L325.3,212.56 L323.15,212.62 L320.99,212.7 L318.83,212.8 L316.68,212.92 L314.52,213.06 L312.37,213.22 L310.21,213.41 L308.06,213.63 L305.91,213.88 L303.75,214.16 L301.6,214.5 L299.45,214.89 L297.3,215.37 L295.15,216.01 L293,217.4 Z" fill="#f0dc4c" stroke="#3c3a12" stroke-width="0.7" stroke-linejoin="round" />
<path d="M297.3,218.71 L299.45,219.02 L301.6,219.28 L303.75,219.49 L305.9,219.68 L308.05,219.85 L310.2,220.01 L312.34,220.14 L314.49,220.27 L316.64,220.38 L318.78,220.48 L320.93,220.57 L323.08,220.65 L325.23,220.72 L327.37,220.79 L329.52,220.84 L331.67,220.89 L333.81,220.93 L335.96,220.97 L338.11,220.99 L340.25,221.01 L342.4,221.02 L344.55,221.03 L346.69,221.02 L348.84,221.01 L350.99,220.99 L353.14,220.96 L355.29,220.92 L357.44,220.86 L359.59,220.8 L361.74,220.72 L363.89,220.63 L366.04,220.52 L368.19,220.39 L370.35,220.23 L372.5,220.04 L374.66,219.79" fill="none" stroke="#c4b434" stroke-width="0.9" stroke-linecap="round" stroke-linejoin="round" />
<path d="M297.3,218.15 L299.45,218.32 L301.6,218.47 L303.75,218.59 L305.9,218.71 L308.05,218.8 L310.2,218.89 L312.35,218.97 L314.5,219.05 L316.64,219.12 L318.79,219.18 L320.94,219.24 L323.09,219.29 L325.24,219.34 L327.39,219.39 L329.53,219.43 L331.68,219.47 L333.83,219.51 L335.98,219.54 L338.13,219.57 L340.28,219.59 L342.42,219.61 L344.57,219.63 L346.72,219.64 L348.87,219.65 L351.02,219.66 L353.17,219.66 L355.32,219.66 L357.47,219.65 L359.62,219.63 L361.77,219.61 L363.92,219.58 L366.07,219.54 L368.22,219.49 L370.37,219.43 L372.52,219.34 L374.68,219.23" fill="none" stroke="#5a5518" stroke-width="0.5" stroke-linecap="round" stroke-linejoin="round" />
<path d="M297.3,216.98 L299.45,216.88 L301.6,216.8 L303.75,216.73 L305.9,216.68 L308.05,216.63 L310.21,216.59 L312.36,216.56 L314.51,216.53 L316.66,216.51 L318.81,216.5 L320.96,216.49 L323.11,216.49 L325.26,216.49 L327.42,216.5 L329.57,216.51 L331.72,216.53 L333.87,216.55 L336.02,216.58 L338.17,216.61 L340.32,216.65 L342.47,216.69 L344.62,216.74 L346.77,216.79 L348.92,216.85 L351.07,216.91 L353.22,216.98 L355.37,217.05 L357.52,217.13 L359.67,217.22 L361.82,217.31 L363.97,217.41 L366.12,217.52 L368.27,217.63 L370.42,217.76 L372.57,217.9 L374.71,218.06" fill="none" stroke="#b3a630" stroke-width="0.35" stroke-linecap="round" stroke-linejoin="round" />
<line x1="335.8" y1="233.2" x2="335.8" y2="242.8" stroke="#111" stroke-width="1.0"/>
<path d="M333.3,241.8 L338.3,241.8 L335.8,247.3 Z" fill="#111"/>
<path d="M305.8,250.8 L307.39,251.54 L308.98,251.82 L310.57,252.04 L312.15,252.24 L313.73,252.42 L315.31,252.6 L316.88,252.79 L318.45,252.97 L320.01,253.16 L321.58,253.35 L323.14,253.55 L324.7,253.76 L326.26,253.98 L327.81,254.2 L329.36,254.44 L330.91,254.68 L332.46,254.94 L334.01,255.21 L335.55,255.49 L337.09,255.78 L338.63,256.09 L340.17,256.4 L341.7,256.73 L343.24,257.06 L344.77,257.4 L346.31,257.75 L347.84,258.11 L349.38,258.47 L350.92,258.84 L352.45,259.21 L354,259.59 L355.54,259.96 L357.1,260.32 L358.66,260.66 L360.25,260.94 L362,260.8 L362,260.8 L360.72,259.59 L359.27,258.84 L357.8,258.17 L356.3,257.55 L354.8,256.97 L353.28,256.43 L351.76,255.91 L350.22,255.41 L348.69,254.95 L347.14,254.5 L345.59,254.08 L344.04,253.67 L342.48,253.29 L340.92,252.93 L339.35,252.58 L337.79,252.26 L336.21,251.95 L334.64,251.66 L333.06,251.39 L331.47,251.14 L329.89,250.9 L328.3,250.68 L326.71,250.48 L325.12,250.3 L323.52,250.15 L321.92,250.01 L320.32,249.9 L318.71,249.81 L317.1,249.74 L315.49,249.7 L313.88,249.69 L312.27,249.72 L310.65,249.78 L309.04,249.9 L307.42,250.11 L305.8,250.8 Z" fill="#ffffff" stroke="#444" stroke-width="0.65" stroke-linejoin="round" />
<path d="M303.2,260.8 L304.74,261.7 L306.34,262.13 L307.95,262.47 L309.57,262.77 L311.19,263.03 L312.81,263.27 L314.44,263.49 L316.07,263.68 L317.7,263.86 L319.33,264.02 L320.96,264.16 L322.59,264.29 L324.23,264.41 L325.86,264.51 L327.5,264.6 L329.13,264.68 L330.77,264.74 L332.4,264.8 L334.04,264.84 L335.68,264.88 L337.32,264.9 L338.95,264.91 L340.59,264.91 L342.23,264.9 L343.87,264.87 L345.5,264.82 L347.14,264.76 L348.78,264.69 L350.42,264.59 L352.05,264.48 L353.69,264.34 L355.32,264.17 L356.95,263.97 L358.58,263.73 L360.21,263.4 L361.8,262.6 L361.8,262.6 L360.13,261.98 L358.49,261.82 L356.86,261.72 L355.23,261.65 L353.6,261.61 L351.97,261.57 L350.34,261.54 L348.72,261.51 L347.1,261.49 L345.48,261.46 L343.85,261.44 L342.23,261.41 L340.61,261.39 L338.99,261.36 L337.37,261.32 L335.75,261.29 L334.13,261.25 L332.52,261.2 L330.9,261.15 L329.28,261.09 L327.66,261.03 L326.04,260.96 L324.42,260.89 L322.8,260.82 L321.18,260.74 L319.56,260.67 L317.94,260.59 L316.32,260.52 L314.7,260.44 L313.07,260.37 L311.45,260.31 L309.82,260.26 L308.19,260.22 L306.55,260.22 L304.9,260.28 L303.2,260.8 Z" fill="#ffffff" stroke="#444" stroke-width="0.65" stroke-linejoin="round" />
<path d="M300,267.8 L302.06,268.4 L304.08,268.53 L306.1,268.61 L308.12,268.66 L310.13,268.69 L312.15,268.72 L314.15,268.74 L316.16,268.77 L318.17,268.79 L320.18,268.81 L322.18,268.84 L324.19,268.88 L326.19,268.91 L328.19,268.96 L330.19,269.01 L332.2,269.06 L334.2,269.13 L336.2,269.2 L338.2,269.28 L340.2,269.37 L342.2,269.47 L344.2,269.58 L346.2,269.69 L348.2,269.8 L350.2,269.93 L352.21,270.05 L354.21,270.18 L356.21,270.31 L358.21,270.45 L360.22,270.58 L362.23,270.71 L364.24,270.83 L366.25,270.94 L368.27,271.02 L370.3,271.04 L372.4,270.6 L372.4,270.6 L370.49,269.62 L368.51,269.12 L366.52,268.7 L364.53,268.33 L362.53,267.99 L360.52,267.69 L358.52,267.41 L356.51,267.15 L354.5,266.92 L352.48,266.71 L350.47,266.51 L348.45,266.33 L346.44,266.17 L344.42,266.03 L342.4,265.9 L340.38,265.79 L338.36,265.69 L336.34,265.6 L334.32,265.53 L332.3,265.47 L330.27,265.43 L328.25,265.4 L326.23,265.39 L324.2,265.39 L322.18,265.42 L320.16,265.46 L318.13,265.51 L316.11,265.59 L314.09,265.69 L312.07,265.81 L310.04,265.96 L308.02,266.14 L306,266.36 L303.99,266.62 L301.98,266.97 L300,267.8 Z" fill="#ffffff" stroke="#444" stroke-width="0.65" stroke-linejoin="round" />
<path d="M299.2,274.8 L301.19,275.73 L303.23,276.18 L305.28,276.55 L307.34,276.87 L309.4,277.15 L311.47,277.4 L313.53,277.64 L315.6,277.84 L317.67,278.03 L319.74,278.2 L321.81,278.36 L323.88,278.49 L325.95,278.61 L328.03,278.72 L330.1,278.81 L332.18,278.89 L334.25,278.95 L336.33,279 L338.4,279.04 L340.48,279.06 L342.55,279.08 L344.63,279.08 L346.71,279.06 L348.78,279.03 L350.86,278.98 L352.93,278.92 L355.01,278.84 L357.08,278.74 L359.16,278.62 L361.23,278.47 L363.31,278.31 L365.38,278.11 L367.45,277.88 L369.51,277.6 L371.57,277.24 L373.6,276.4 L373.6,276.4 L371.49,275.82 L369.41,275.69 L367.33,275.63 L365.26,275.6 L363.19,275.58 L361.13,275.57 L359.06,275.57 L357,275.56 L354.94,275.56 L352.88,275.56 L350.82,275.56 L348.76,275.55 L346.7,275.54 L344.64,275.52 L342.58,275.5 L340.52,275.47 L338.46,275.44 L336.4,275.4 L334.35,275.35 L332.29,275.3 L330.23,275.23 L328.17,275.17 L326.11,275.09 L324.06,275.02 L322,274.94 L319.94,274.85 L317.88,274.77 L315.82,274.68 L313.76,274.59 L311.7,274.51 L309.63,274.43 L307.56,274.35 L305.49,274.3 L303.42,274.27 L301.34,274.31 L299.2,274.8 Z" fill="#ffffff" stroke="#444" stroke-width="0.65" stroke-linejoin="round" />
<path d="M316.8,256.0 Q322,254.6 328.6,257.4 L328.8,262.2 L317.4,262.2 Q316.2,259.4 316.8,256.0 Z" fill="#f0dc4c" stroke="#4a4718" stroke-width="0.5" stroke-linejoin="round" stroke-linecap="round" />
<path d="M339.2,258.8 L351.2,259.4 L351.4,262.4 L339.4,262.4 Z" fill="#f0dc4c" stroke="#4a4718" stroke-width="0.5" stroke-linejoin="round" stroke-linecap="round" />
<path d="M317.6,271.6 L333.6,271.8 L333.8,276.2 L317.8,276.2 Z" fill="#f0dc4c" stroke="#4a4718" stroke-width="0.5" stroke-linejoin="round" stroke-linecap="round" />
<path d="M340.4,271.4 L353.2,271.6 L353.4,276.0 L340.6,276.0 Z" fill="#f0dc4c" stroke="#4a4718" stroke-width="0.5" stroke-linejoin="round" stroke-linecap="round" />
<circle cx="378.4" cy="286" r="8.3" fill="#e2e2e2" stroke="#2a2a2a" stroke-width="1"/>
<text x="378.2" y="289.1" font-size="8.6" text-anchor="middle" font-weight="bold" fill="#111" letter-spacing="-0.5">GZ</text>
<line x1="335.8" y1="285.2" x2="335.8" y2="294.8" stroke="#111" stroke-width="1.0"/>
<path d="M333.3,293.8 L338.3,293.8 L335.8,299.3 Z" fill="#111"/>
<path d="M297.2,318.2 L299.17,319.09 L301.18,319.64 L303.21,320.12 L305.24,320.55 L307.28,320.95 L309.33,321.32 L311.38,321.66 L313.43,321.98 L315.49,322.28 L317.55,322.56 L319.62,322.83 L321.68,323.07 L323.76,323.3 L325.83,323.51 L327.91,323.7 L329.99,323.87 L332.07,324.02 L334.16,324.15 L336.25,324.23 L338.34,324.29 L340.43,324.33 L342.53,324.35 L344.63,324.36 L346.73,324.34 L348.83,324.31 L350.93,324.26 L353.04,324.19 L355.14,324.1 L357.25,323.99 L359.36,323.86 L361.46,323.7 L363.57,323.51 L365.68,323.29 L367.79,323.02 L369.9,322.68 L372,322 L372,322 L369.88,321.38 L367.77,321.08 L365.67,320.84 L363.57,320.63 L361.47,320.44 L359.38,320.26 L357.29,320.1 L355.2,319.94 L353.11,319.79 L351.03,319.64 L348.95,319.49 L346.87,319.35 L344.79,319.2 L342.72,319.07 L340.65,318.93 L338.58,318.8 L336.51,318.67 L334.44,318.55 L332.37,318.46 L330.31,318.38 L328.24,318.3 L326.18,318.23 L324.11,318.15 L322.05,318.09 L319.99,318.02 L317.92,317.95 L315.86,317.89 L313.8,317.84 L311.74,317.78 L309.67,317.74 L307.61,317.7 L305.54,317.68 L303.47,317.68 L301.4,317.71 L299.32,317.8 L297.2,318.2 Z" fill="#ffffff" stroke="#444" stroke-width="0.65" stroke-linejoin="round" />
<path d="M315.4,320.6 C315.0,314 316.4,309.6 319.4,307.6 C322.5,306.3 328.6,306.3 331.0,307.8 C333.6,309.8 334.6,314 334.5,320.8 C330,321.8 320,321.6 315.4,320.6 Z" fill="#f0dc4c" stroke="#4a4718" stroke-width="0.6" stroke-linejoin="round" stroke-linecap="round" />
<path d="M334.6,320.6 C334.4,314 336.0,309.6 339.4,307.6 C342.5,306.3 346.6,306.3 348.8,307.8 C351.6,310.0 352.6,314 352.0,320.6 C347,321.6 339,321.6 334.6,320.6 Z" fill="#f0dc4c" stroke="#4a4718" stroke-width="0.6" stroke-linejoin="round" stroke-linecap="round" />
<line x1="335.8" y1="333.2" x2="335.8" y2="343" stroke="#111" stroke-width="1.0"/>
<path d="M333.3,342 L338.3,342 L335.8,347.5 Z" fill="#111"/>
<path d="M300.8,361.4 L301.88,363.84 L303.24,364.62 L304.63,365.21 L306.04,365.7 L307.46,366.14 L308.89,366.54 L310.32,366.91 L311.75,367.25 L313.19,367.59 L314.62,367.91 L316.06,368.23 L317.5,368.54 L318.95,368.84 L320.39,369.15 L321.83,369.45 L323.27,369.76 L324.71,370.07 L326.16,370.38 L327.6,370.69 L329.04,371.01 L330.48,371.33 L331.92,371.65 L333.36,371.97 L334.8,372.3 L336.24,372.63 L337.68,372.97 L339.12,373.3 L340.56,373.63 L342,373.95 L343.44,374.27 L344.89,374.59 L346.34,374.89 L347.79,375.18 L349.25,375.44 L350.72,375.68 L352.2,375.89 L353.69,376.03 L355.21,376.09 L356.78,375.95 L358.8,374.2 L358.8,374.2 L357.93,371.67 L356.63,370.77 L355.26,370.06 L353.88,369.45 L352.47,368.9 L351.05,368.4 L349.62,367.94 L348.19,367.5 L346.75,367.08 L345.31,366.68 L343.86,366.29 L342.41,365.92 L340.96,365.56 L339.51,365.2 L338.05,364.85 L336.59,364.51 L335.14,364.18 L333.68,363.85 L332.22,363.52 L330.76,363.19 L329.3,362.87 L327.84,362.56 L326.38,362.24 L324.92,361.94 L323.46,361.63 L321.99,361.34 L320.53,361.05 L319.06,360.77 L317.6,360.5 L316.13,360.24 L314.65,359.99 L313.18,359.77 L311.7,359.57 L310.22,359.39 L308.73,359.25 L307.23,359.15 L305.72,359.12 L304.2,359.2 L302.64,359.47 L300.8,361.4 Z" fill="#f0dc4c" stroke="#4a4718" stroke-width="0.6" stroke-linejoin="round" />
<path d="M306,368.2 L308,369.79 L309.64,370.02 L311.23,370.07 L312.79,370.02 L314.34,369.91 L315.88,369.77 L317.41,369.6 L318.94,369.41 L320.47,369.21 L322,369 L323.53,368.79 L325.06,368.57 L326.6,368.35 L328.14,368.14 L329.68,367.93 L331.23,367.72 L332.78,367.52 L334.34,367.33 L335.9,367.15 L337.46,366.98 L339.04,366.81 L340.61,366.66 L342.19,366.52 L343.78,366.39 L345.37,366.26 L346.97,366.14 L348.57,366.02 L350.18,365.9 L351.79,365.79 L353.4,365.67 L355.03,365.54 L356.65,365.41 L358.29,365.26 L359.93,365.09 L361.57,364.9 L363.23,364.66 L364.89,364.37 L366.57,363.98 L368.26,363.39 L370,361.4 L370,361.4 L368.35,359.32 L366.65,358.66 L364.95,358.23 L363.25,357.91 L361.55,357.68 L359.85,357.5 L358.16,357.38 L356.47,357.3 L354.78,357.25 L353.1,357.23 L351.42,357.24 L349.74,357.28 L348.08,357.34 L346.41,357.42 L344.75,357.52 L343.1,357.63 L341.45,357.76 L339.81,357.9 L338.17,358.06 L336.54,358.22 L334.91,358.4 L333.28,358.59 L331.66,358.8 L330.05,359.02 L328.44,359.25 L326.84,359.5 L325.24,359.77 L323.66,360.05 L322.07,360.36 L320.5,360.7 L318.93,361.06 L317.38,361.45 L315.84,361.88 L314.3,362.35 L312.79,362.86 L311.29,363.44 L309.82,364.09 L308.38,364.86 L307,365.84 L306,368.2 Z" fill="#f0dc4c" stroke="#4a4718" stroke-width="0.6" stroke-linejoin="round" />
<circle cx="378.4" cy="377" r="8.3" fill="#e2e2e2" stroke="#2a2a2a" stroke-width="1"/>
<text x="378.4" y="380.4" font-size="9.5" text-anchor="middle" font-weight="bold" fill="#111">A</text>
<path d="M452.0,24.6 C455.5,19.5 468,11.6 478.5,11.2 C488,11.0 500,12.6 506.6,14.8 L506.8,24.6 C496,29.6 470,36.6 452.4,38.0 Z" fill="#efe04e" stroke="#3a3810" stroke-width="0.7" stroke-linejoin="round" stroke-linecap="round" />
<path d="M452.0,24.6 C455.5,19.5 468,11.6 478.5,11.2 C488,11.0 500,12.6 506.6,14.8 C507.4,17.0 506.6,19.4 506.0,20.0 C494,25.0 470,31.0 452.4,31.2 C451.6,28.6 451.4,26.4 452.0,24.6 Z" fill="#a69b24" stroke="#3a3810" stroke-width="0.7" stroke-linejoin="round" stroke-linecap="round" />
<path d="M452.4,34.6 C470,33.8 494,28.2 506.6,22.6" fill="none" stroke="#3a3810" stroke-width="0.5" stroke-linejoin="round" stroke-linecap="round" />
<text x="470.3" y="104" font-size="6.6" font-weight="bold" fill="#bf1e2e" text-anchor="middle">SIP+</text>
<text x="488.3" y="104" font-size="6.6" font-weight="bold" fill="#1c5bb4" text-anchor="middle">SIP-</text>
<circle cx="466.7" cy="111.7" r="2" fill="#bf1e2e" stroke="none" stroke-width="0.7" />
<circle cx="465.5" cy="121.3" r="2" fill="#bf1e2e" stroke="none" stroke-width="0.7" />
<circle cx="471.8" cy="119.2" r="2" fill="#bf1e2e" stroke="none" stroke-width="0.7" />
<circle cx="488.4" cy="111.7" r="2" fill="#1c5bb4" stroke="none" stroke-width="0.7" />
<circle cx="483.7" cy="119.2" r="2" fill="#1c5bb4" stroke="none" stroke-width="0.7" />
<circle cx="489.8" cy="121.3" r="2" fill="#1c5bb4" stroke="none" stroke-width="0.7" />
<path d="M452.0,109.2 L460.6,110.8 L460.8,157.6 L451.8,155.8 Z" fill="#efe04e" stroke="#3a3810" stroke-width="0.7" stroke-linejoin="round" stroke-linecap="round" />
<path d="M457.4,110.2 L457.4,157.0" fill="none" stroke="#3a3810" stroke-width="0.45" stroke-linejoin="round" stroke-linecap="round" />
<path d="M452.0,109.2 C448.6,109.4 446.6,114.6 444.6,121.6 C442.6,128.6 441.6,131.6 442.2,136.0 C442.8,141 444.6,149 447.6,154.8 L454.4,156.4 L454.6,109.8 Z" fill="#a69b24" stroke="#3a3810" stroke-width="0.7" stroke-linejoin="round" stroke-linecap="round" />
<path d="M496.2,114.8 C501,114.0 503.6,114.2 505.4,115.4 C512,121 515.4,128 515.2,133.6 C515.0,140 510,146.6 503.6,151.0 L496.6,151.8 Z" fill="#efe04e" stroke="#3a3810" stroke-width="0.7" stroke-linejoin="round" stroke-linecap="round" />
<path d="M501.2,114.6 C508.6,121 511.6,128 511.4,133.6 C511.2,140 506.6,146.8 500.4,151.4" fill="none" stroke="#3a3810" stroke-width="0.45" stroke-linejoin="round" stroke-linecap="round" />
<path d="M496.2,114.8 L498.6,114.4 C505.6,121 508.4,128 508.2,133.6 C508.0,140 503.6,147.0 497.6,151.6 L496.6,151.8 C495.6,140 495.4,126 496.2,114.8 Z" fill="#a69b24" stroke="#3a3810" stroke-width="0.7" stroke-linejoin="round" stroke-linecap="round" />
<circle cx="523.1" cy="155.7" r="8.3" fill="#e2e2e2" stroke="#2a2a2a" stroke-width="1"/>
<text x="523.1" y="159.1" font-size="9.5" text-anchor="middle" font-weight="bold" fill="#111">S</text>
<line x1="478.7" y1="173.4" x2="478.7" y2="183.3" stroke="#111" stroke-width="1.0"/>
<path d="M476.2,182.3 L481.2,182.3 L478.7,187.8 Z" fill="#111"/>
<ellipse cx="479.3" cy="214.8" rx="32.4" ry="14.9" fill="#e9d9a2" stroke="none" stroke-width="0.7"  />
<path d="M452.8,207.4 C458,200.4 468,195.0 476.0,194.6 C484,194.2 494,195.6 499.4,198.0 L499.6,203.0 L499.4,206.4 C490,208.6 470,212.8 470.6,213.0 L452.8,216.6 Z" fill="#efe04e" stroke="#3a3810" stroke-width="0.7" stroke-linejoin="round" stroke-linecap="round" />
<path d="M452.8,207.4 C458,200.4 468,195.0 476.0,194.6 C484,194.2 494,195.6 499.4,198.0 L499.6,202.2 C488,204.6 468,208.6 457.4,211.0 L452.8,211.6 Z" fill="#a69b24" stroke="#3a3810" stroke-width="0.7" stroke-linejoin="round" stroke-linecap="round" />
<path d="M457.0,214.0 C470,211.6 488,207.4 499.4,204.4" fill="none" stroke="#3a3810" stroke-width="0.45" stroke-linejoin="round" stroke-linecap="round" />
<path d="M456.6,213.2 C458,210.8 480,209.4 493.4,210.8 C496,213.0 495.4,216.0 495.2,220.0 C488,226 478,229.0 471.0,228.6 C464,228.2 458,223.6 456.4,220.8 Z" fill="#efe04e" stroke="#3a3810" stroke-width="0.7" stroke-linejoin="round" stroke-linecap="round" />
<path d="M456.6,213.2 C458,210.8 480,209.4 493.4,210.8 C496,212.6 494.6,214.0 493.6,215.2 C488,219.6 478,222.8 471.4,222.4 C465,222.0 459,218.4 457.0,216.0 C456.0,214.8 456.2,214.0 456.6,213.2 Z" fill="#a69b24" stroke="#3a3810" stroke-width="0.7" stroke-linejoin="round" stroke-linecap="round" />
<path d="M457.0,218.6 C461,222.0 466,225.2 471.4,225.6 C478,225.8 488,222.6 494.8,217.6" fill="none" stroke="#3a3810" stroke-width="0.45" stroke-linejoin="round" stroke-linecap="round" />
<circle cx="523.1" cy="226.7" r="8.3" fill="#e2e2e2" stroke="#2a2a2a" stroke-width="1"/>
<text x="523.1" y="230.1" font-size="9.5" text-anchor="middle" font-weight="bold" fill="#111">P</text>
<line x1="478.8" y1="233.4" x2="478.8" y2="242.8" stroke="#111" stroke-width="1.0"/>
<path d="M476.3,241.8 L481.3,241.8 L478.8,247.3 Z" fill="#111"/>
<ellipse cx="456.4" cy="261.2" rx="5" ry="15.2" fill="#c6c6c6" stroke="#5a5a5a" stroke-width="0.5" transform="rotate(25 456.4 261.2)" />
<ellipse cx="467.6" cy="270" rx="15" ry="4.3" fill="#c6c6c6" stroke="#5a5a5a" stroke-width="0.5" transform="rotate(-27 467.6 270)" />
<ellipse cx="487.6" cy="265.4" rx="4.6" ry="13.4" fill="#c6c6c6" stroke="#5a5a5a" stroke-width="0.5" transform="rotate(25 487.6 265.4)" />
<ellipse cx="498.4" cy="269.2" rx="15" ry="4.1" fill="#c6c6c6" stroke="#5a5a5a" stroke-width="0.5" transform="rotate(-42 498.4 269.2)" />
<circle cx="457.6" cy="261.6" r="6.4" fill="#c9bd34" stroke="#3a3810" stroke-width="0.6" />
<circle cx="468.8" cy="265.4" r="6.7" fill="#c9bd34" stroke="#3a3810" stroke-width="0.6" />
<circle cx="489.6" cy="271.4" r="5.4" fill="#c9bd34" stroke="#3a3810" stroke-width="0.6" />
<circle cx="493.2" cy="261.4" r="5.8" fill="#c9bd34" stroke="#3a3810" stroke-width="0.6" />
<circle cx="523.1" cy="286.3" r="8.3" fill="#e2e2e2" stroke="#2a2a2a" stroke-width="1"/>
<text x="522.9" y="289.4" font-size="8.6" text-anchor="middle" font-weight="bold" fill="#111" letter-spacing="-0.5">GZ</text>
<line x1="478.9" y1="285.3" x2="478.9" y2="294.9" stroke="#111" stroke-width="1.0"/>
<path d="M476.4,293.9 L481.4,293.9 L478.9,299.4 Z" fill="#111"/>
<path d="M478.4,307.0 C481,305.2 488,304.8 490.6,306.4 C494,308.8 494.4,315.6 492.6,319.4 C490.6,322.6 484,323.6 480.6,322.2 Z" fill="#c9bd34" stroke="#3a3810" stroke-width="0.7" stroke-linejoin="round" stroke-linecap="round" />
<path d="M465.0,313.0 C467,308.4 474,306.0 478.4,307.6 C482.6,309.4 483.6,316.0 481.6,320.8 C479.6,325.4 474,327.6 470.0,326.2 C465.4,324.6 463.2,318.0 465.0,313.0 Z" fill="#c9bd34" stroke="#3a3810" stroke-width="0.7" stroke-linejoin="round" stroke-linecap="round" />
<line x1="478.9" y1="333.4" x2="478.9" y2="343" stroke="#111" stroke-width="1.0"/>
<path d="M476.4,342 L481.4,342 L478.9,347.5 Z" fill="#111"/>
<rect x="-4.2" y="-4.2" width="42.5" height="8.4" rx="4.2" fill="#c9bd34" stroke="#3a3810" stroke-width="0.7" transform="translate(465.6,357.6) rotate(17.05)"/>
<rect x="-4.8" y="-4.8" width="41.54" height="9.6" rx="4.8" fill="#c9bd34" stroke="#3a3810" stroke-width="0.7" transform="translate(460.6,363.6) rotate(22.07)"/>
<circle cx="523.1" cy="376.9" r="8.3" fill="#e2e2e2" stroke="#2a2a2a" stroke-width="1"/>
<text x="523.1" y="380.3" font-size="9.5" text-anchor="middle" font-weight="bold" fill="#111">A</text>
<path d="M579.76,44.14 L581,43.39 L582.26,42.68 L583.53,41.98 L584.83,41.3 L586.14,40.64 L587.48,39.99 L588.83,39.36 L590.2,38.75 L591.59,38.15 L592.99,37.57 L594.41,37 L595.84,36.44 L597.29,35.9 L598.76,35.37 L600.32,35.11 L601.92,34.93 L603.53,34.76 L605.14,34.6 L606.76,34.44 L608.37,34.26 L609.98,34.05 L611.59,33.81 L613.19,33.55 L614.79,33.26 L616.39,32.94 L617.99,32.59 L619.57,32.2 L621.16,31.77 L622.73,31.31 L624.3,30.8 L625.86,30.26 L627.41,29.68 L628.96,29.06 L630.48,28.4 L632,27.7 L633.51,26.96 L635,26.18 L636.47,25.37 L637.92,24.51 L639.36,23.63 L640.78,22.73 L642.2,21.82 L643.6,20.92 L645.05,20.16 L646.56,19.54 L648.05,18.91 L649.53,18.26 L651.01,17.59 L652.46,16.91 L653.91,16.2 L655.34,15.47 L656.76,14.73 L658.16,13.96 L659.54,13.16 L660.91,12.35 L662.26,11.5 L663.59,10.63 L664.9,9.74 L666.19,8.82 L667.45,7.87 L666.15,6.13 L664.9,7.05 L663.65,7.95 L662.38,8.82 L661.08,9.66 L659.77,10.48 L658.44,11.28 L657.09,12.05 L655.72,12.8 L654.34,13.53 L652.94,14.25 L651.52,14.94 L650.09,15.61 L648.64,16.27 L647.19,16.9 L645.72,17.53 L644.24,18.13 L642.68,18.57 L641.06,18.83 L639.43,19.06 L637.79,19.27 L636.16,19.48 L634.53,19.7 L632.9,19.93 L631.28,20.19 L629.67,20.46 L628.06,20.76 L626.46,21.09 L624.86,21.45 L623.28,21.83 L621.7,22.25 L620.13,22.69 L618.57,23.18 L617.01,23.7 L615.47,24.25 L613.94,24.84 L612.42,25.46 L610.91,26.12 L609.42,26.82 L607.94,27.54 L606.47,28.3 L605.03,29.11 L603.6,29.93 L602.19,30.78 L600.79,31.64 L599.4,32.49 L598,33.29 L596.53,33.85 L595.06,34.4 L593.61,34.97 L592.16,35.55 L590.74,36.14 L589.32,36.75 L587.92,37.38 L586.54,38.02 L585.18,38.68 L583.83,39.36 L582.5,40.05 L581.19,40.77 L579.9,41.51 L578.64,42.26 Z" fill="#cdd042" stroke="#4d4d1a" stroke-width="0.6" stroke-linejoin="round" />
<path d="M597.29,35.9 L598.75,35.37 L600.32,35.09 L601.9,34.86 L603.48,34.63 L605.06,34.35 L606.62,34.03 L608.18,33.65 L609.71,33.19 L611.23,32.66 L612.74,32.07 L614.23,31.41 L615.71,30.69 L617.18,29.93 L618.65,29.13 L620.11,28.3 L621.57,27.46 L623.03,26.62 L624.49,25.78 L625.95,24.96 L627.43,24.18 L628.91,23.44 L630.4,22.74 L631.91,22.1 L633.43,21.51 L634.97,20.98 L636.52,20.5 L638.08,20.08 L639.66,19.68 L641.24,19.31 L642.82,18.93 L644.36,18.44" fill="none" stroke="#4d4d1a" stroke-width="0.45" stroke-linecap="round" stroke-linejoin="round" />
<path d="M597.18,35.59 L598.64,35.05 L600.18,34.7 L601.73,34.37 L603.28,34.03 L604.83,33.65 L606.36,33.23 L607.89,32.75 L609.4,32.21 L610.9,31.61 L612.39,30.95 L613.87,30.24 L615.34,29.48 L616.81,28.68 L618.27,27.86 L619.72,27.02 L621.18,26.17 L622.64,25.33 L624.1,24.52 L625.57,23.73 L627.05,22.99 L628.55,22.29 L630.05,21.66 L631.57,21.08 L633.11,20.57 L634.67,20.13 L636.25,19.75 L637.85,19.42 L639.46,19.13 L641.07,18.86 L642.68,18.57 L644.24,18.13" fill="none" stroke="#4d4d1a" stroke-width="0.45" stroke-linecap="round" stroke-linejoin="round" />
<line x1="581" y1="43.39" x2="581.19" y2="40.77" stroke="#4d4d1a" stroke-width="0.55"/>
<line x1="582.26" y1="42.68" x2="582.5" y2="40.05" stroke="#4d4d1a" stroke-width="0.55"/>
<line x1="583.53" y1="41.98" x2="583.83" y2="39.36" stroke="#4d4d1a" stroke-width="0.55"/>
<line x1="584.83" y1="41.3" x2="585.18" y2="38.68" stroke="#4d4d1a" stroke-width="0.55"/>
<line x1="586.14" y1="40.64" x2="586.54" y2="38.02" stroke="#4d4d1a" stroke-width="0.55"/>
<line x1="587.48" y1="39.99" x2="587.92" y2="37.38" stroke="#4d4d1a" stroke-width="0.55"/>
<line x1="588.83" y1="39.36" x2="589.32" y2="36.75" stroke="#4d4d1a" stroke-width="0.55"/>
<line x1="590.2" y1="38.75" x2="590.74" y2="36.14" stroke="#4d4d1a" stroke-width="0.55"/>
<line x1="591.59" y1="38.15" x2="592.16" y2="35.55" stroke="#4d4d1a" stroke-width="0.55"/>
<line x1="592.99" y1="37.57" x2="593.61" y2="34.97" stroke="#4d4d1a" stroke-width="0.55"/>
<line x1="594.41" y1="37" x2="595.06" y2="34.4" stroke="#4d4d1a" stroke-width="0.55"/>
<line x1="595.84" y1="36.44" x2="596.53" y2="33.85" stroke="#4d4d1a" stroke-width="0.55"/>
<line x1="648.05" y1="18.91" x2="648.64" y2="16.27" stroke="#4d4d1a" stroke-width="0.55"/>
<line x1="649.53" y1="18.26" x2="650.09" y2="15.61" stroke="#4d4d1a" stroke-width="0.55"/>
<line x1="651.01" y1="17.59" x2="651.52" y2="14.94" stroke="#4d4d1a" stroke-width="0.55"/>
<line x1="652.46" y1="16.91" x2="652.94" y2="14.25" stroke="#4d4d1a" stroke-width="0.55"/>
<line x1="653.91" y1="16.2" x2="654.34" y2="13.53" stroke="#4d4d1a" stroke-width="0.55"/>
<line x1="655.34" y1="15.47" x2="655.72" y2="12.8" stroke="#4d4d1a" stroke-width="0.55"/>
<line x1="656.76" y1="14.73" x2="657.09" y2="12.05" stroke="#4d4d1a" stroke-width="0.55"/>
<line x1="658.16" y1="13.96" x2="658.44" y2="11.28" stroke="#4d4d1a" stroke-width="0.55"/>
<line x1="659.54" y1="13.16" x2="659.77" y2="10.48" stroke="#4d4d1a" stroke-width="0.55"/>
<line x1="660.91" y1="12.35" x2="661.08" y2="9.66" stroke="#4d4d1a" stroke-width="0.55"/>
<line x1="662.26" y1="11.5" x2="662.38" y2="8.82" stroke="#4d4d1a" stroke-width="0.55"/>
<line x1="663.59" y1="10.63" x2="663.65" y2="7.95" stroke="#4d4d1a" stroke-width="0.55"/>
<line x1="664.9" y1="9.74" x2="664.9" y2="7.05" stroke="#4d4d1a" stroke-width="0.55"/>
<line x1="666.19" y1="8.82" x2="666.15" y2="6.13" stroke="#4d4d1a" stroke-width="0.55"/>
<text x="633.6" y="103.4" font-size="6.6" font-weight="bold" fill="#1c5bb4" text-anchor="middle">SIP-</text>
<circle cx="640.7" cy="109.7" r="2" fill="#1c5bb4" stroke="none" stroke-width="0.7" />
<circle cx="635.6" cy="117.7" r="2" fill="#1c5bb4" stroke="none" stroke-width="0.7" />
<circle cx="642.1" cy="120" r="2" fill="#1c5bb4" stroke="none" stroke-width="0.7" />
<path d="M588.51,83.83 L589.32,84.97 L590.11,86.13 L590.87,87.3 L591.61,88.5 L592.34,89.71 L593.05,90.95 L593.74,92.2 L594.41,93.47 L595.06,94.76 L595.71,96.07 L596.33,97.39 L596.94,98.73 L597.54,100.08 L598.13,101.45 L598.7,102.83 L599.01,104.32 L599.19,105.87 L599.33,107.43 L599.47,109 L599.61,110.56 L599.76,112.13 L599.94,113.69 L600.15,115.24 L600.38,116.79 L600.65,118.33 L600.95,119.87 L601.29,121.4 L601.67,122.92 L602.08,124.44 L602.54,125.95 L603.04,127.45 L603.58,128.94 L604.17,130.42 L604.8,131.9 L605.47,133.36 L606.18,134.81 L606.93,136.26 L607.72,137.68 L608.56,139.1 L609.43,140.49 L610.33,141.88 L611.26,143.25 L612.19,144.61 L613.11,145.98 L613.91,147.37 L614.48,148.85 L615.05,150.33 L615.63,151.79 L616.23,153.25 L616.84,154.7 L617.47,156.14 L618.11,157.57 L618.76,158.99 L619.44,160.4 L620.13,161.8 L620.83,163.18 L621.56,164.55 L622.31,165.9 L623.08,167.24 L623.86,168.56 L625.74,167.44 L624.96,166.14 L624.21,164.83 L623.48,163.51 L622.77,162.17 L622.08,160.81 L621.4,159.45 L620.74,158.06 L620.09,156.67 L619.46,155.26 L618.85,153.84 L618.25,152.42 L617.66,150.98 L617.08,149.53 L616.51,148.07 L615.96,146.6 L615.67,145.04 L615.51,143.42 L615.39,141.8 L615.27,140.18 L615.15,138.56 L615.01,136.94 L614.84,135.34 L614.64,133.74 L614.41,132.16 L614.15,130.58 L613.85,129.01 L613.51,127.45 L613.14,125.91 L612.72,124.38 L612.26,122.85 L611.76,121.35 L611.21,119.85 L610.62,118.37 L609.98,116.91 L609.3,115.46 L608.58,114.04 L607.82,112.62 L607.02,111.23 L606.17,109.86 L605.28,108.52 L604.37,107.19 L603.43,105.88 L602.48,104.59 L601.55,103.31 L600.72,102 L600.14,100.6 L599.54,99.21 L598.94,97.83 L598.31,96.47 L597.67,95.12 L597.02,93.78 L596.35,92.47 L595.66,91.16 L594.95,89.88 L594.22,88.61 L593.48,87.36 L592.71,86.13 L591.93,84.92 L591.12,83.73 L590.29,82.57 Z" fill="#cdd042" stroke="#4d4d1a" stroke-width="0.6" stroke-linejoin="round" />
<path d="M598.13,101.45 L598.71,102.82 L599.03,104.31 L599.25,105.84 L599.47,107.38 L599.73,108.9 L600.04,110.41 L600.41,111.9 L600.87,113.36 L601.41,114.81 L602.02,116.24 L602.71,117.65 L603.46,119.05 L604.26,120.43 L605.11,121.81 L605.99,123.19 L606.88,124.57 L607.78,125.94 L608.66,127.33 L609.52,128.72 L610.34,130.13 L611.11,131.55 L611.82,132.99 L612.46,134.45 L613.04,135.93 L613.55,137.43 L613.98,138.95 L614.36,140.49 L614.69,142.05 L614.99,143.61 L615.28,145.18 L615.65,146.72" fill="none" stroke="#4d4d1a" stroke-width="0.45" stroke-linecap="round" stroke-linejoin="round" />
<path d="M598.43,101.32 L599.01,102.7 L599.41,104.16 L599.75,105.65 L600.09,107.15 L600.46,108.63 L600.89,110.1 L601.38,111.56 L601.93,112.99 L602.56,114.42 L603.25,115.82 L604.01,117.22 L604.81,118.6 L605.66,119.98 L606.54,121.35 L607.44,122.73 L608.34,124.1 L609.23,125.48 L610.09,126.87 L610.92,128.28 L611.7,129.7 L612.41,131.14 L613.05,132.59 L613.62,134.07 L614.11,135.58 L614.52,137.11 L614.84,138.66 L615.1,140.24 L615.31,141.83 L615.49,143.43 L615.67,145.04 L615.96,146.6" fill="none" stroke="#4d4d1a" stroke-width="0.45" stroke-linecap="round" stroke-linejoin="round" />
<line x1="589.32" y1="84.97" x2="591.93" y2="84.92" stroke="#4d4d1a" stroke-width="0.55"/>
<line x1="590.11" y1="86.13" x2="592.71" y2="86.13" stroke="#4d4d1a" stroke-width="0.55"/>
<line x1="590.87" y1="87.3" x2="593.48" y2="87.36" stroke="#4d4d1a" stroke-width="0.55"/>
<line x1="591.61" y1="88.5" x2="594.22" y2="88.61" stroke="#4d4d1a" stroke-width="0.55"/>
<line x1="592.34" y1="89.71" x2="594.95" y2="89.88" stroke="#4d4d1a" stroke-width="0.55"/>
<line x1="593.05" y1="90.95" x2="595.66" y2="91.16" stroke="#4d4d1a" stroke-width="0.55"/>
<line x1="593.74" y1="92.2" x2="596.35" y2="92.47" stroke="#4d4d1a" stroke-width="0.55"/>
<line x1="594.41" y1="93.47" x2="597.02" y2="93.78" stroke="#4d4d1a" stroke-width="0.55"/>
<line x1="595.06" y1="94.76" x2="597.67" y2="95.12" stroke="#4d4d1a" stroke-width="0.55"/>
<line x1="595.71" y1="96.07" x2="598.31" y2="96.47" stroke="#4d4d1a" stroke-width="0.55"/>
<line x1="596.33" y1="97.39" x2="598.94" y2="97.83" stroke="#4d4d1a" stroke-width="0.55"/>
<line x1="596.94" y1="98.73" x2="599.54" y2="99.21" stroke="#4d4d1a" stroke-width="0.55"/>
<line x1="597.54" y1="100.08" x2="600.14" y2="100.6" stroke="#4d4d1a" stroke-width="0.55"/>
<line x1="615.05" y1="150.33" x2="617.66" y2="150.98" stroke="#4d4d1a" stroke-width="0.55"/>
<line x1="615.63" y1="151.79" x2="618.25" y2="152.42" stroke="#4d4d1a" stroke-width="0.55"/>
<line x1="616.23" y1="153.25" x2="618.85" y2="153.84" stroke="#4d4d1a" stroke-width="0.55"/>
<line x1="616.84" y1="154.7" x2="619.46" y2="155.26" stroke="#4d4d1a" stroke-width="0.55"/>
<line x1="617.47" y1="156.14" x2="620.09" y2="156.67" stroke="#4d4d1a" stroke-width="0.55"/>
<line x1="618.11" y1="157.57" x2="620.74" y2="158.06" stroke="#4d4d1a" stroke-width="0.55"/>
<line x1="618.76" y1="158.99" x2="621.4" y2="159.45" stroke="#4d4d1a" stroke-width="0.55"/>
<line x1="619.44" y1="160.4" x2="622.08" y2="160.81" stroke="#4d4d1a" stroke-width="0.55"/>
<line x1="620.13" y1="161.8" x2="622.77" y2="162.17" stroke="#4d4d1a" stroke-width="0.55"/>
<line x1="620.83" y1="163.18" x2="623.48" y2="163.51" stroke="#4d4d1a" stroke-width="0.55"/>
<line x1="621.56" y1="164.55" x2="624.21" y2="164.83" stroke="#4d4d1a" stroke-width="0.55"/>
<line x1="622.31" y1="165.9" x2="624.96" y2="166.14" stroke="#4d4d1a" stroke-width="0.55"/>
<line x1="623.08" y1="167.24" x2="625.74" y2="167.44" stroke="#4d4d1a" stroke-width="0.55"/>
<path d="M669.66,98.65 L668.83,100.07 L667.99,101.45 L667.15,102.8 L666.3,104.12 L665.44,105.42 L664.57,106.7 L663.7,107.94 L662.82,109.17 L661.93,110.37 L661.04,111.55 L660.14,112.72 L659.24,113.86 L658.28,114.95 L657.11,115.85 L655.91,116.7 L654.7,117.52 L653.5,118.33 L652.31,119.14 L651.13,119.95 L649.99,120.77 L648.86,121.61 L647.76,122.46 L646.68,123.33 L645.63,124.22 L644.59,125.13 L643.59,126.06 L642.61,127.02 L641.66,128.01 L640.73,129.03 L639.83,130.08 L638.96,131.16 L638.11,132.27 L637.3,133.42 L636.5,134.59 L635.74,135.79 L635,137.02 L634.29,138.28 L633.61,139.57 L632.95,140.88 L632.3,142.2 L631.65,143.54 L630.99,144.85 L630.16,146.04 L629.25,147.16 L628.34,148.31 L627.44,149.47 L626.54,150.65 L625.65,151.86 L624.77,153.08 L623.9,154.33 L623.03,155.6 L622.17,156.9 L621.32,158.22 L620.48,159.57 L619.64,160.95 L618.82,162.36 L618,163.8 L617.2,165.27 L616.41,166.77 L615.63,168.3 L617.57,169.3 L618.34,167.78 L619.12,166.3 L619.91,164.86 L620.71,163.45 L621.52,162.07 L622.34,160.72 L623.16,159.39 L624,158.09 L624.84,156.82 L625.69,155.57 L626.55,154.35 L627.42,153.14 L628.29,151.96 L629.17,150.8 L630.06,149.66 L630.95,148.53 L631.85,147.42 L632.85,146.4 L634.02,145.54 L635.21,144.73 L636.42,143.93 L637.61,143.14 L638.8,142.36 L639.96,141.56 L641.1,140.75 L642.22,139.92 L643.32,139.08 L644.39,138.22 L645.44,137.33 L646.47,136.42 L647.47,135.48 L648.44,134.51 L649.39,133.51 L650.32,132.48 L651.22,131.42 L652.09,130.32 L652.93,129.2 L653.75,128.04 L654.54,126.85 L655.3,125.63 L656.04,124.38 L656.74,123.09 L657.43,121.77 L658.09,120.44 L658.74,119.09 L659.39,117.74 L660.06,116.4 L660.94,115.22 L661.86,114.06 L662.77,112.88 L663.68,111.68 L664.58,110.45 L665.48,109.21 L666.37,107.94 L667.25,106.64 L668.13,105.32 L668.99,103.97 L669.85,102.59 L670.7,101.18 L671.54,99.75 Z" fill="#cdd042" stroke="#4d4d1a" stroke-width="0.6" stroke-linejoin="round" />
<path d="M659.24,113.86 L658.28,114.95 L657.14,115.86 L655.97,116.75 L654.83,117.63 L653.72,118.53 L652.67,119.46 L651.67,120.43 L650.73,121.46 L649.86,122.53 L649.03,123.65 L648.26,124.81 L647.52,126.01 L646.82,127.25 L646.15,128.51 L645.49,129.78 L644.84,131.06 L644.19,132.34 L643.52,133.61 L642.83,134.85 L642.12,136.06 L641.36,137.24 L640.56,138.37 L639.71,139.46 L638.82,140.51 L637.86,141.51 L636.87,142.48 L635.82,143.41 L634.75,144.33 L633.66,145.24 L632.57,146.17" fill="none" stroke="#4d4d1a" stroke-width="0.45" stroke-linecap="round" stroke-linejoin="round" />
<path d="M659.49,114.06 L658.55,115.17 L657.48,116.15 L656.4,117.11 L655.34,118.07 L654.31,119.04 L653.33,120.05 L652.4,121.1 L651.53,122.18 L650.71,123.31 L649.93,124.48 L649.19,125.69 L648.49,126.93 L647.82,128.19 L647.16,129.47 L646.51,130.75 L645.86,132.04 L645.2,133.31 L644.52,134.56 L643.81,135.77 L643.06,136.95 L642.26,138.09 L641.42,139.17 L640.52,140.21 L639.56,141.19 L638.54,142.12 L637.47,143.01 L636.34,143.87 L635.19,144.7 L634.01,145.54 L632.85,146.4" fill="none" stroke="#4d4d1a" stroke-width="0.45" stroke-linecap="round" stroke-linejoin="round" />
<line x1="668.83" y1="100.07" x2="669.85" y2="102.59" stroke="#4d4d1a" stroke-width="0.55"/>
<line x1="667.99" y1="101.45" x2="668.99" y2="103.97" stroke="#4d4d1a" stroke-width="0.55"/>
<line x1="667.15" y1="102.8" x2="668.13" y2="105.32" stroke="#4d4d1a" stroke-width="0.55"/>
<line x1="666.3" y1="104.12" x2="667.25" y2="106.64" stroke="#4d4d1a" stroke-width="0.55"/>
<line x1="665.44" y1="105.42" x2="666.37" y2="107.94" stroke="#4d4d1a" stroke-width="0.55"/>
<line x1="664.57" y1="106.7" x2="665.48" y2="109.21" stroke="#4d4d1a" stroke-width="0.55"/>
<line x1="663.7" y1="107.94" x2="664.58" y2="110.45" stroke="#4d4d1a" stroke-width="0.55"/>
<line x1="662.82" y1="109.17" x2="663.68" y2="111.68" stroke="#4d4d1a" stroke-width="0.55"/>
<line x1="661.93" y1="110.37" x2="662.77" y2="112.88" stroke="#4d4d1a" stroke-width="0.55"/>
<line x1="661.04" y1="111.55" x2="661.86" y2="114.06" stroke="#4d4d1a" stroke-width="0.55"/>
<line x1="660.14" y1="112.72" x2="660.94" y2="115.22" stroke="#4d4d1a" stroke-width="0.55"/>
<line x1="629.25" y1="147.16" x2="630.06" y2="149.66" stroke="#4d4d1a" stroke-width="0.55"/>
<line x1="628.34" y1="148.31" x2="629.17" y2="150.8" stroke="#4d4d1a" stroke-width="0.55"/>
<line x1="627.44" y1="149.47" x2="628.29" y2="151.96" stroke="#4d4d1a" stroke-width="0.55"/>
<line x1="626.54" y1="150.65" x2="627.42" y2="153.14" stroke="#4d4d1a" stroke-width="0.55"/>
<line x1="625.65" y1="151.86" x2="626.55" y2="154.35" stroke="#4d4d1a" stroke-width="0.55"/>
<line x1="624.77" y1="153.08" x2="625.69" y2="155.57" stroke="#4d4d1a" stroke-width="0.55"/>
<line x1="623.9" y1="154.33" x2="624.84" y2="156.82" stroke="#4d4d1a" stroke-width="0.55"/>
<line x1="623.03" y1="155.6" x2="624" y2="158.09" stroke="#4d4d1a" stroke-width="0.55"/>
<line x1="622.17" y1="156.9" x2="623.16" y2="159.39" stroke="#4d4d1a" stroke-width="0.55"/>
<line x1="621.32" y1="158.22" x2="622.34" y2="160.72" stroke="#4d4d1a" stroke-width="0.55"/>
<line x1="620.48" y1="159.57" x2="621.52" y2="162.07" stroke="#4d4d1a" stroke-width="0.55"/>
<line x1="619.64" y1="160.95" x2="620.71" y2="163.45" stroke="#4d4d1a" stroke-width="0.55"/>
<line x1="618.82" y1="162.36" x2="619.91" y2="164.86" stroke="#4d4d1a" stroke-width="0.55"/>
<line x1="618" y1="163.8" x2="619.12" y2="166.3" stroke="#4d4d1a" stroke-width="0.55"/>
<line x1="617.2" y1="165.27" x2="618.34" y2="167.78" stroke="#4d4d1a" stroke-width="0.55"/>
<line x1="616.41" y1="166.77" x2="617.57" y2="169.3" stroke="#4d4d1a" stroke-width="0.55"/>
<line x1="621.5" y1="173.5" x2="621.5" y2="183.3" stroke="#111" stroke-width="1.0"/>
<path d="M619,182.3 L624,182.3 L621.5,187.8 Z" fill="#111"/>
<ellipse cx="621.4" cy="212.2" rx="26.3" ry="13" fill="#e9d9a2" stroke="none" stroke-width="0.7"  />
<path d="M574.62,213.7 L575.81,213.25 L577.02,212.83 L578.26,212.43 L579.53,212.07 L580.83,211.73 L582.16,211.42 L583.52,211.14 L584.91,210.88 L586.32,210.64 L587.75,210.42 L589.21,210.23 L590.7,210.05 L592.2,209.9 L593.72,209.76 L595.26,209.64 L596.82,209.53 L598.41,209.74 L600.02,210.06 L601.63,210.4 L603.25,210.76 L604.87,211.1 L606.5,211.43 L608.14,211.72 L609.78,211.98 L611.43,212.21 L613.09,212.4 L614.75,212.56 L616.41,212.67 L618.08,212.75 L619.75,212.77 L621.43,212.76 L623.1,212.7 L624.78,212.59 L626.45,212.44 L628.11,212.23 L629.77,211.99 L631.43,211.7 L633.07,211.36 L634.7,210.97 L636.31,210.54 L637.91,210.08 L639.49,209.6 L641.04,209.13 L642.59,208.74 L644.13,208.63 L645.65,208.5 L647.15,208.36 L648.64,208.19 L650.1,208.01 L651.54,207.8 L652.96,207.57 L654.35,207.32 L655.72,207.04 L657.06,206.74 L658.37,206.4 L659.66,206.04 L660.91,205.65 L662.13,205.23 L663.32,204.77 L664.46,204.29 L663.54,202.11 L662.44,202.58 L661.32,203 L660.17,203.4 L658.98,203.77 L657.76,204.12 L656.51,204.44 L655.22,204.73 L653.9,205 L652.56,205.24 L651.18,205.46 L649.78,205.66 L648.36,205.84 L646.91,206.01 L645.44,206.15 L643.94,206.27 L642.43,206.38 L640.88,206.18 L639.31,205.87 L637.73,205.53 L636.15,205.18 L634.55,204.84 L632.95,204.51 L631.33,204.23 L629.71,203.97 L628.08,203.74 L626.43,203.55 L624.79,203.39 L623.13,203.28 L621.47,203.2 L619.8,203.18 L618.12,203.19 L616.44,203.25 L614.76,203.36 L613.08,203.51 L611.4,203.71 L609.73,203.96 L608.06,204.25 L606.39,204.58 L604.74,204.97 L603.1,205.39 L601.47,205.85 L599.85,206.32 L598.26,206.79 L596.68,207.17 L595.09,207.28 L593.52,207.4 L591.97,207.54 L590.44,207.7 L588.92,207.88 L587.42,208.08 L585.94,208.3 L584.49,208.55 L583.06,208.82 L581.65,209.11 L580.26,209.44 L578.91,209.79 L577.58,210.17 L576.27,210.58 L575,211.03 L573.78,211.5 Z" fill="#cdd042" stroke="#4d4d1a" stroke-width="0.6" stroke-linejoin="round" />
<path d="M595.26,209.64 L596.82,209.53 L598.41,209.71 L600.01,209.97 L601.62,210.22 L603.24,210.43 L604.86,210.57 L606.49,210.63 L608.13,210.6 L609.77,210.48 L611.43,210.29 L613.09,210.02 L614.75,209.69 L616.42,209.32 L618.1,208.9 L619.77,208.47 L621.45,208.04 L623.12,207.62 L624.78,207.23 L626.44,206.89 L628.09,206.6 L629.73,206.37 L631.36,206.22 L632.97,206.13 L634.58,206.13 L636.18,206.19 L637.76,206.31 L639.34,206.47 L640.9,206.63 L642.45,206.74" fill="none" stroke="#4d4d1a" stroke-width="0.45" stroke-linecap="round" stroke-linejoin="round" />
<path d="M595.24,209.29 L596.8,209.17 L598.39,209.27 L599.99,209.41 L601.6,209.54 L603.21,209.63 L604.84,209.65 L606.47,209.6 L608.11,209.48 L609.76,209.28 L611.42,209.01 L613.09,208.69 L614.76,208.31 L616.43,207.9 L618.1,207.47 L619.78,207.03 L621.45,206.61 L623.12,206.21 L624.78,205.86 L626.44,205.56 L628.08,205.32 L629.72,205.17 L631.34,205.1 L632.96,205.1 L634.56,205.21 L636.15,205.39 L637.74,205.63 L639.31,205.91 L640.88,206.19 L642.43,206.38" fill="none" stroke="#4d4d1a" stroke-width="0.45" stroke-linecap="round" stroke-linejoin="round" />
<line x1="575.81" y1="213.25" x2="576.27" y2="210.58" stroke="#4d4d1a" stroke-width="0.55"/>
<line x1="577.02" y1="212.83" x2="577.58" y2="210.17" stroke="#4d4d1a" stroke-width="0.55"/>
<line x1="578.26" y1="212.43" x2="578.91" y2="209.79" stroke="#4d4d1a" stroke-width="0.55"/>
<line x1="579.53" y1="212.07" x2="580.26" y2="209.44" stroke="#4d4d1a" stroke-width="0.55"/>
<line x1="580.83" y1="211.73" x2="581.65" y2="209.11" stroke="#4d4d1a" stroke-width="0.55"/>
<line x1="582.16" y1="211.42" x2="583.06" y2="208.82" stroke="#4d4d1a" stroke-width="0.55"/>
<line x1="583.52" y1="211.14" x2="584.49" y2="208.55" stroke="#4d4d1a" stroke-width="0.55"/>
<line x1="584.91" y1="210.88" x2="585.94" y2="208.3" stroke="#4d4d1a" stroke-width="0.55"/>
<line x1="586.32" y1="210.64" x2="587.42" y2="208.08" stroke="#4d4d1a" stroke-width="0.55"/>
<line x1="587.75" y1="210.42" x2="588.92" y2="207.88" stroke="#4d4d1a" stroke-width="0.55"/>
<line x1="589.21" y1="210.23" x2="590.44" y2="207.7" stroke="#4d4d1a" stroke-width="0.55"/>
<line x1="590.7" y1="210.05" x2="591.97" y2="207.54" stroke="#4d4d1a" stroke-width="0.55"/>
<line x1="592.2" y1="209.9" x2="593.52" y2="207.4" stroke="#4d4d1a" stroke-width="0.55"/>
<line x1="593.72" y1="209.76" x2="595.09" y2="207.28" stroke="#4d4d1a" stroke-width="0.55"/>
<line x1="645.65" y1="208.5" x2="646.91" y2="206.01" stroke="#4d4d1a" stroke-width="0.55"/>
<line x1="647.15" y1="208.36" x2="648.36" y2="205.84" stroke="#4d4d1a" stroke-width="0.55"/>
<line x1="648.64" y1="208.19" x2="649.78" y2="205.66" stroke="#4d4d1a" stroke-width="0.55"/>
<line x1="650.1" y1="208.01" x2="651.18" y2="205.46" stroke="#4d4d1a" stroke-width="0.55"/>
<line x1="651.54" y1="207.8" x2="652.56" y2="205.24" stroke="#4d4d1a" stroke-width="0.55"/>
<line x1="652.96" y1="207.57" x2="653.9" y2="205" stroke="#4d4d1a" stroke-width="0.55"/>
<line x1="654.35" y1="207.32" x2="655.22" y2="204.73" stroke="#4d4d1a" stroke-width="0.55"/>
<line x1="655.72" y1="207.04" x2="656.51" y2="204.44" stroke="#4d4d1a" stroke-width="0.55"/>
<line x1="657.06" y1="206.74" x2="657.76" y2="204.12" stroke="#4d4d1a" stroke-width="0.55"/>
<line x1="658.37" y1="206.4" x2="658.98" y2="203.77" stroke="#4d4d1a" stroke-width="0.55"/>
<line x1="659.66" y1="206.04" x2="660.17" y2="203.4" stroke="#4d4d1a" stroke-width="0.55"/>
<line x1="660.91" y1="205.65" x2="661.32" y2="203" stroke="#4d4d1a" stroke-width="0.55"/>
<line x1="662.13" y1="205.23" x2="662.44" y2="202.58" stroke="#4d4d1a" stroke-width="0.55"/>
<line x1="663.32" y1="204.77" x2="663.54" y2="202.11" stroke="#4d4d1a" stroke-width="0.55"/>
<path d="M576.97,218.92 L578.24,218.5 L579.53,218.11 L580.84,217.75 L582.19,217.42 L583.56,217.11 L584.97,216.82 L586.39,216.55 L587.85,216.31 L589.32,216.09 L590.82,215.88 L592.34,215.7 L593.88,215.53 L595.44,215.38 L597.02,215.25 L598.63,215.35 L600.26,215.63 L601.91,215.95 L603.56,216.27 L605.22,216.59 L606.88,216.9 L608.55,217.16 L610.23,217.4 L611.92,217.61 L613.61,217.78 L615.31,217.92 L617.02,218.02 L618.73,218.07 L620.44,218.09 L622.16,218.05 L623.88,217.98 L625.6,217.85 L627.32,217.68 L629.04,217.47 L630.76,217.21 L632.47,216.9 L634.17,216.55 L635.86,216.15 L637.55,215.71 L639.21,215.23 L640.87,214.74 L642.51,214.25 L644.13,213.8 L645.76,213.65 L647.37,213.51 L648.97,213.35 L650.56,213.18 L652.13,212.99 L653.68,212.78 L655.21,212.54 L656.72,212.29 L658.21,212.01 L659.67,211.71 L661.12,211.38 L662.54,211.03 L663.93,210.65 L665.3,210.24 L666.64,209.79 L667.95,209.32 L669.23,208.82 L670.47,208.29 L669.53,206.11 L668.33,206.63 L667.12,207.11 L665.87,207.56 L664.59,207.98 L663.28,208.37 L661.94,208.74 L660.57,209.08 L659.17,209.4 L657.75,209.69 L656.31,209.96 L654.83,210.21 L653.34,210.43 L651.82,210.64 L650.29,210.83 L648.73,211 L647.16,211.15 L645.57,211.29 L643.96,211.38 L642.31,211.15 L640.66,210.84 L639,210.52 L637.33,210.19 L635.65,209.87 L633.97,209.57 L632.28,209.32 L630.59,209.09 L628.89,208.89 L627.19,208.73 L625.48,208.6 L623.77,208.52 L622.05,208.48 L620.34,208.49 L618.62,208.54 L616.9,208.64 L615.18,208.78 L613.46,208.97 L611.75,209.21 L610.05,209.49 L608.35,209.81 L606.66,210.18 L604.98,210.61 L603.32,211.07 L601.68,211.56 L600.05,212.06 L598.44,212.55 L596.83,212.89 L595.23,213.03 L593.64,213.18 L592.07,213.35 L590.52,213.54 L588.99,213.74 L587.47,213.97 L585.98,214.22 L584.51,214.5 L583.07,214.79 L581.64,215.12 L580.24,215.46 L578.87,215.84 L577.53,216.25 L576.23,216.68 Z" fill="#cdd042" stroke="#4d4d1a" stroke-width="0.6" stroke-linejoin="round" />
<path d="M595.44,215.38 L597.02,215.24 L598.63,215.32 L600.26,215.55 L601.9,215.77 L603.54,215.95 L605.2,216.07 L606.86,216.12 L608.52,216.06 L610.2,215.93 L611.88,215.71 L613.57,215.43 L615.27,215.08 L616.97,214.68 L618.68,214.24 L620.39,213.79 L622.11,213.33 L623.82,212.88 L625.53,212.47 L627.24,212.09 L628.94,211.78 L630.64,211.52 L632.33,211.34 L634.02,211.22 L635.7,211.19 L637.37,211.23 L639.03,211.33 L640.69,211.47 L642.34,211.62 L643.98,211.74" fill="none" stroke="#4d4d1a" stroke-width="0.45" stroke-linecap="round" stroke-linejoin="round" />
<path d="M595.41,215.03 L596.99,214.89 L598.6,214.9 L600.23,215.01 L601.86,215.11 L603.51,215.17 L605.16,215.18 L606.82,215.11 L608.49,214.96 L610.17,214.74 L611.86,214.45 L613.55,214.1 L615.25,213.7 L616.96,213.27 L618.67,212.81 L620.38,212.35 L622.09,211.89 L623.8,211.47 L625.51,211.08 L627.22,210.75 L628.92,210.49 L630.62,210.3 L632.3,210.2 L633.99,210.18 L635.66,210.25 L637.33,210.4 L639,210.62 L640.66,210.88 L642.31,211.16 L643.96,211.38" fill="none" stroke="#4d4d1a" stroke-width="0.45" stroke-linecap="round" stroke-linejoin="round" />
<line x1="578.24" y1="218.5" x2="578.87" y2="215.84" stroke="#4d4d1a" stroke-width="0.55"/>
<line x1="579.53" y1="218.11" x2="580.24" y2="215.46" stroke="#4d4d1a" stroke-width="0.55"/>
<line x1="580.84" y1="217.75" x2="581.64" y2="215.12" stroke="#4d4d1a" stroke-width="0.55"/>
<line x1="582.19" y1="217.42" x2="583.07" y2="214.79" stroke="#4d4d1a" stroke-width="0.55"/>
<line x1="583.56" y1="217.11" x2="584.51" y2="214.5" stroke="#4d4d1a" stroke-width="0.55"/>
<line x1="584.97" y1="216.82" x2="585.98" y2="214.22" stroke="#4d4d1a" stroke-width="0.55"/>
<line x1="586.39" y1="216.55" x2="587.47" y2="213.97" stroke="#4d4d1a" stroke-width="0.55"/>
<line x1="587.85" y1="216.31" x2="588.99" y2="213.74" stroke="#4d4d1a" stroke-width="0.55"/>
<line x1="589.32" y1="216.09" x2="590.52" y2="213.54" stroke="#4d4d1a" stroke-width="0.55"/>
<line x1="590.82" y1="215.88" x2="592.07" y2="213.35" stroke="#4d4d1a" stroke-width="0.55"/>
<line x1="592.34" y1="215.7" x2="593.64" y2="213.18" stroke="#4d4d1a" stroke-width="0.55"/>
<line x1="593.88" y1="215.53" x2="595.23" y2="213.03" stroke="#4d4d1a" stroke-width="0.55"/>
<line x1="647.37" y1="213.51" x2="648.73" y2="211" stroke="#4d4d1a" stroke-width="0.55"/>
<line x1="648.97" y1="213.35" x2="650.29" y2="210.83" stroke="#4d4d1a" stroke-width="0.55"/>
<line x1="650.56" y1="213.18" x2="651.82" y2="210.64" stroke="#4d4d1a" stroke-width="0.55"/>
<line x1="652.13" y1="212.99" x2="653.34" y2="210.43" stroke="#4d4d1a" stroke-width="0.55"/>
<line x1="653.68" y1="212.78" x2="654.83" y2="210.21" stroke="#4d4d1a" stroke-width="0.55"/>
<line x1="655.21" y1="212.54" x2="656.31" y2="209.96" stroke="#4d4d1a" stroke-width="0.55"/>
<line x1="656.72" y1="212.29" x2="657.75" y2="209.69" stroke="#4d4d1a" stroke-width="0.55"/>
<line x1="658.21" y1="212.01" x2="659.17" y2="209.4" stroke="#4d4d1a" stroke-width="0.55"/>
<line x1="659.67" y1="211.71" x2="660.57" y2="209.08" stroke="#4d4d1a" stroke-width="0.55"/>
<line x1="661.12" y1="211.38" x2="661.94" y2="208.74" stroke="#4d4d1a" stroke-width="0.55"/>
<line x1="662.54" y1="211.03" x2="663.28" y2="208.37" stroke="#4d4d1a" stroke-width="0.55"/>
<line x1="663.93" y1="210.65" x2="664.59" y2="207.98" stroke="#4d4d1a" stroke-width="0.55"/>
<line x1="665.3" y1="210.24" x2="665.87" y2="207.56" stroke="#4d4d1a" stroke-width="0.55"/>
<line x1="666.64" y1="209.79" x2="667.12" y2="207.11" stroke="#4d4d1a" stroke-width="0.55"/>
<line x1="667.95" y1="209.32" x2="668.33" y2="206.63" stroke="#4d4d1a" stroke-width="0.55"/>
<line x1="669.23" y1="208.82" x2="669.53" y2="206.11" stroke="#4d4d1a" stroke-width="0.55"/>
<circle cx="668.7" cy="226.7" r="8.3" fill="#e2e2e2" stroke="#2a2a2a" stroke-width="1"/>
<text x="668.7" y="230.1" font-size="9.5" text-anchor="middle" font-weight="bold" fill="#111">P</text>
<line x1="621.6" y1="233.4" x2="621.6" y2="242.8" stroke="#111" stroke-width="1.0"/>
<path d="M619.1,241.8 L624.1,241.8 L621.6,247.3 Z" fill="#111"/>
<path d="M574.61,267.91 L575.8,267.47 L577,267.07 L578.24,266.69 L579.51,266.35 L580.82,266.03 L582.15,265.73 L583.51,265.46 L584.89,265.21 L586.31,264.98 L587.74,264.78 L589.21,264.6 L590.69,264.43 L592.19,264.29 L593.72,264.16 L595.27,264.28 L596.85,264.57 L598.44,264.89 L600.04,265.23 L601.64,265.58 L603.25,265.92 L604.87,266.24 L606.5,266.52 L608.13,266.79 L609.77,267.03 L611.42,267.24 L613.07,267.42 L614.73,267.56 L616.4,267.67 L618.06,267.74 L619.74,267.77 L621.41,267.77 L623.08,267.72 L624.76,267.63 L626.43,267.49 L628.1,267.32 L629.76,267.1 L631.42,266.84 L633.06,266.54 L634.7,266.2 L636.32,265.81 L637.92,265.38 L639.51,264.92 L641.07,264.44 L642.62,263.95 L644.14,263.46 L645.64,263.11 L647.15,262.97 L648.63,262.82 L650.09,262.64 L651.53,262.45 L652.95,262.23 L654.34,261.99 L655.71,261.73 L657.05,261.44 L658.36,261.12 L659.64,260.77 L660.9,260.4 L662.12,259.99 L663.31,259.56 L664.45,259.1 L663.55,256.9 L662.46,257.35 L661.34,257.76 L660.19,258.14 L659,258.5 L657.77,258.83 L656.52,259.13 L655.23,259.41 L653.91,259.66 L652.57,259.9 L651.19,260.11 L649.79,260.3 L648.37,260.47 L646.92,260.62 L645.44,260.75 L643.93,260.63 L642.4,260.35 L640.85,260.03 L639.29,259.69 L637.72,259.35 L636.14,259.02 L634.55,258.7 L632.95,258.42 L631.34,258.15 L629.72,257.92 L628.09,257.71 L626.45,257.53 L624.8,257.39 L623.15,257.28 L621.48,257.21 L619.81,257.18 L618.14,257.18 L616.46,257.23 L614.78,257.32 L613.1,257.45 L611.42,257.63 L609.74,257.84 L608.06,258.1 L606.4,258.4 L604.74,258.73 L603.09,259.12 L601.45,259.55 L599.83,260 L598.23,260.48 L596.65,260.97 L595.08,261.45 L593.53,261.8 L591.98,261.93 L590.44,262.08 L588.93,262.25 L587.43,262.43 L585.95,262.64 L584.5,262.88 L583.07,263.13 L581.66,263.41 L580.28,263.72 L578.92,264.06 L577.59,264.42 L576.29,264.81 L575.01,265.24 L573.79,265.69 Z" fill="#d2d2d2" stroke="#5a5a5a" stroke-width="0.6" stroke-linejoin="round" />
<path d="M576.96,273.13 L578.23,272.73 L579.51,272.36 L580.83,272.01 L582.18,271.69 L583.55,271.4 L584.96,271.12 L586.38,270.87 L587.84,270.64 L589.31,270.43 L590.81,270.24 L592.33,270.06 L593.88,269.91 L595.45,269.93 L597.06,270.18 L598.67,270.47 L600.3,270.78 L601.94,271.1 L603.58,271.41 L605.23,271.71 L606.89,271.97 L608.56,272.21 L610.24,272.43 L611.92,272.62 L613.61,272.77 L615.31,272.89 L617.02,272.98 L618.73,273.03 L620.45,273.04 L622.16,273.01 L623.89,272.93 L625.61,272.82 L627.33,272.67 L629.05,272.47 L630.77,272.23 L632.49,271.95 L634.19,271.63 L635.89,271.27 L637.58,270.86 L639.25,270.41 L640.91,269.92 L642.55,269.42 L644.18,268.9 L645.78,268.38 L647.37,267.94 L648.98,267.78 L650.56,267.6 L652.13,267.41 L653.68,267.19 L655.21,266.96 L656.72,266.7 L658.21,266.42 L659.68,266.12 L661.12,265.79 L662.54,265.43 L663.93,265.05 L665.3,264.64 L666.64,264.2 L667.95,263.72 L669.23,263.22 L670.47,262.69 L669.53,260.51 L668.33,261.03 L667.12,261.51 L665.87,261.96 L664.59,262.38 L663.28,262.78 L661.94,263.14 L660.57,263.49 L659.17,263.81 L657.75,264.1 L656.3,264.37 L654.83,264.62 L653.34,264.85 L651.82,265.06 L650.29,265.25 L648.73,265.42 L647.16,265.58 L645.54,265.41 L643.91,265.15 L642.26,264.85 L640.61,264.53 L638.96,264.22 L637.29,263.92 L635.62,263.64 L633.95,263.39 L632.26,263.16 L630.58,262.96 L628.88,262.78 L627.18,262.64 L625.47,262.54 L623.76,262.47 L622.05,262.43 L620.33,262.44 L618.61,262.48 L616.9,262.57 L615.18,262.7 L613.46,262.87 L611.75,263.08 L610.04,263.34 L608.34,263.63 L606.65,263.97 L604.97,264.34 L603.3,264.77 L601.65,265.23 L600.01,265.72 L598.4,266.23 L596.8,266.75 L595.22,267.24 L593.65,267.55 L592.08,267.71 L590.53,267.89 L589,268.08 L587.48,268.3 L585.99,268.54 L584.52,268.8 L583.08,269.08 L581.66,269.38 L580.26,269.72 L578.89,270.08 L577.54,270.46 L576.24,270.87 Z" fill="#d2d2d2" stroke="#5a5a5a" stroke-width="0.6" stroke-linejoin="round" />
<ellipse cx="617.8" cy="261.8" rx="5" ry="4.1" fill="#cdd042" stroke="#4d4d1a" stroke-width="0.55" transform="rotate(-8 617.8 261.8)" />
<ellipse cx="627.6" cy="261.6" rx="5" ry="4.1" fill="#cdd042" stroke="#4d4d1a" stroke-width="0.55" transform="rotate(8 627.6 261.6)" />
<ellipse cx="614.8" cy="268.4" rx="5.6" ry="4.3" fill="#cdd042" stroke="#4d4d1a" stroke-width="0.55" transform="rotate(-6 614.8 268.4)" />
<ellipse cx="626.2" cy="268.8" rx="5.4" ry="4.2" fill="#cdd042" stroke="#4d4d1a" stroke-width="0.55" transform="rotate(4 626.2 268.8)" />
<circle cx="668.7" cy="286.3" r="8.3" fill="#e2e2e2" stroke="#2a2a2a" stroke-width="1"/>
<text x="668.5" y="289.4" font-size="8.6" text-anchor="middle" font-weight="bold" fill="#111" letter-spacing="-0.5">GZ</text>
<line x1="621.6" y1="285.3" x2="621.6" y2="294.9" stroke="#111" stroke-width="1.0"/>
<path d="M619.1,293.9 L624.1,293.9 L621.6,299.4 Z" fill="#111"/>
<ellipse cx="615" cy="316" rx="7.9" ry="10.9" fill="#cdd042" stroke="#4d4d1a" stroke-width="0.7" transform="rotate(6 615 316)" />
<ellipse cx="629.8" cy="316.8" rx="8" ry="10" fill="#cdd042" stroke="#4d4d1a" stroke-width="0.7" transform="rotate(12 629.8 316.8)" />
<line x1="621.6" y1="333.4" x2="621.6" y2="343" stroke="#111" stroke-width="1.0"/>
<path d="M619.1,342 L624.1,342 L621.6,347.5 Z" fill="#111"/>
<path d="M580.99,380.5 L582.55,380.09 L584.08,379.69 L585.58,379.28 L587.06,378.86 L588.5,378.44 L589.92,378.02 L591.32,377.59 L592.69,377.16 L594.03,376.72 L595.36,376.28 L596.66,375.83 L597.99,375.51 L599.36,375.36 L600.73,375.22 L602.09,375.09 L603.44,374.95 L604.78,374.8 L606.1,374.62 L607.41,374.43 L608.69,374.19 L609.96,373.92 L611.21,373.62 L612.44,373.29 L613.66,372.94 L614.86,372.55 L616.04,372.12 L617.21,371.67 L618.35,371.18 L619.49,370.66 L620.6,370.11 L621.7,369.52 L622.78,368.91 L623.85,368.26 L624.91,367.57 L625.96,366.86 L626.99,366.12 L628.01,365.34 L629.03,364.54 L630.04,363.71 L631.04,362.85 L632.05,361.96 L633.04,361.04 L634.04,360.09 L635.04,359.12 L636.05,358.14 L637.07,357.14 L638.12,356.15 L639.2,355.18 L640.39,354.35 L641.66,353.64 L642.96,352.91 L644.27,352.18 L645.61,351.44 L646.98,350.69 L648.37,349.93 L649.78,349.16 L651.22,348.37 L652.69,347.58 L654.19,346.78 L655.73,345.97 L654.27,343.23 L652.74,344.05 L651.23,344.86 L649.75,345.65 L648.3,346.44 L646.88,347.21 L645.49,347.98 L644.12,348.73 L642.77,349.48 L641.45,350.21 L640.15,350.94 L638.87,351.65 L637.55,352.24 L636.15,352.66 L634.76,353.04 L633.38,353.4 L632.01,353.76 L630.67,354.11 L629.35,354.46 L628.05,354.83 L626.78,355.21 L625.53,355.6 L624.31,356.01 L623.11,356.43 L621.93,356.86 L620.78,357.31 L619.65,357.77 L618.53,358.25 L617.44,358.75 L616.36,359.26 L615.3,359.79 L614.25,360.34 L613.22,360.91 L612.2,361.5 L611.19,362.11 L610.19,362.73 L609.19,363.38 L608.2,364.05 L607.21,364.73 L606.21,365.43 L605.22,366.15 L604.22,366.89 L603.22,367.66 L602.21,368.44 L601.18,369.23 L600.14,370.02 L599.07,370.81 L597.98,371.59 L596.85,372.34 L595.64,372.91 L594.37,373.35 L593.07,373.78 L591.74,374.21 L590.4,374.63 L589.03,375.05 L587.63,375.47 L586.21,375.88 L584.76,376.29 L583.27,376.7 L581.76,377.1 L580.21,377.5 Z" fill="#cdd042" stroke="#4d4d1a" stroke-width="0.6" stroke-linejoin="round" />
<path d="M599.18,385.7 L600.43,385.38 L601.68,385.06 L602.9,384.72 L604.1,384.38 L605.28,384.03 L606.45,383.68 L607.6,383.31 L608.72,382.94 L609.84,382.56 L610.93,382.18 L612.01,381.78 L613.08,381.39 L614.16,381.05 L615.31,380.91 L616.46,380.8 L617.62,380.69 L618.77,380.57 L619.91,380.44 L621.03,380.28 L622.15,380.11 L623.25,379.9 L624.33,379.66 L625.4,379.39 L626.45,379.1 L627.49,378.78 L628.51,378.43 L629.51,378.05 L630.49,377.64 L631.46,377.21 L632.41,376.74 L633.34,376.25 L634.26,375.73 L635.15,375.18 L636.04,374.61 L636.91,374.01 L637.76,373.38 L638.6,372.73 L639.43,372.06 L640.24,371.36 L641.05,370.63 L641.85,369.89 L642.64,369.12 L643.42,368.32 L644.19,367.51 L644.97,366.67 L645.75,365.83 L646.53,364.98 L647.33,364.14 L648.16,363.32 L649.06,362.6 L650.06,362.04 L651.07,361.49 L652.1,360.93 L653.14,360.37 L654.19,359.81 L655.26,359.24 L656.34,358.68 L657.44,358.12 L658.55,357.55 L659.69,356.98 L658.31,354.22 L657.16,354.79 L656.03,355.36 L654.92,355.93 L653.82,356.5 L652.74,357.07 L651.68,357.64 L650.62,358.21 L649.59,358.77 L648.56,359.33 L647.55,359.89 L646.46,360.29 L645.32,360.57 L644.17,360.83 L643.03,361.09 L641.9,361.34 L640.78,361.6 L639.68,361.86 L638.6,362.14 L637.54,362.45 L636.49,362.78 L635.47,363.11 L634.46,363.47 L633.47,363.84 L632.5,364.23 L631.55,364.64 L630.62,365.06 L629.7,365.51 L628.8,365.97 L627.91,366.45 L627.04,366.96 L626.18,367.48 L625.34,368.02 L624.51,368.58 L623.68,369.16 L622.86,369.76 L622.05,370.38 L621.25,371.01 L620.44,371.66 L619.64,372.33 L618.84,373.02 L618.04,373.73 L617.23,374.45 L616.42,375.18 L615.59,375.91 L614.74,376.64 L613.87,377.35 L612.97,378.02 L611.98,378.49 L610.94,378.88 L609.89,379.26 L608.82,379.64 L607.74,380.01 L606.64,380.37 L605.53,380.72 L604.39,381.07 L603.24,381.41 L602.07,381.74 L600.88,382.07 L599.66,382.39 L598.42,382.7 Z" fill="#cdd042" stroke="#4d4d1a" stroke-width="0.6" stroke-linejoin="round" />
<circle cx="668.7" cy="376.9" r="8.3" fill="#e2e2e2" stroke="#2a2a2a" stroke-width="1"/>
<text x="668.7" y="380.3" font-size="9.5" text-anchor="middle" font-weight="bold" fill="#111">A</text>
<text x="0.00" y="416.30" font-size="12.5" text-anchor="start" font-weight="bold" font-style="normal" fill="#111" >b</text>
<text x="23.00" y="473.00" font-size="9.72" text-anchor="start" font-weight="bold" font-style="normal" fill="#111" >Differential expression</text>
<rect x="27.60" y="479.90" width="11.50" height="11.50" fill="#2a9bd2" stroke="none" stroke-width="0" />
<rect x="27.60" y="494.40" width="11.50" height="11.50" fill="#f0603d" stroke="none" stroke-width="0" />
<text x="43.70" y="489.10" font-size="9.4" text-anchor="start" font-weight="normal" font-style="normal" fill="#222" >Upregulated</text>
<text x="43.70" y="503.00" font-size="9.4" text-anchor="start" font-weight="normal" font-style="normal" fill="#222" >Downregulated</text>
<rect x="59.90" y="580.58" width="13.60" height="19.52" fill="#2a9bd2" stroke="none" stroke-width="0" />
<rect x="59.90" y="600.10" width="13.60" height="0.40" fill="#f0603d" stroke="none" stroke-width="0" />
<text x="66.70" y="578.68" font-size="8.2" text-anchor="middle" font-weight="normal" font-style="normal" fill="#222" >1141</text>
<text x="66.70" y="610.20" font-size="9.6" text-anchor="middle" font-weight="normal" font-style="normal" fill="#222" >P</text>
<rect x="83.40" y="580.82" width="13.60" height="16.08" fill="#2a9bd2" stroke="none" stroke-width="0" />
<rect x="83.40" y="596.90" width="13.60" height="3.60" fill="#f0603d" stroke="none" stroke-width="0" />
<text x="90.20" y="578.92" font-size="8.2" text-anchor="middle" font-weight="normal" font-style="normal" fill="#222" >1127</text>
<text x="90.20" y="610.20" font-size="9.6" text-anchor="middle" font-weight="normal" font-style="normal" fill="#222" >GZ</text>
<rect x="118.20" y="570.01" width="13.60" height="26.99" fill="#2a9bd2" stroke="none" stroke-width="0" />
<rect x="118.20" y="597.00" width="13.60" height="3.50" fill="#f0603d" stroke="none" stroke-width="0" />
<text x="125.00" y="568.11" font-size="8.2" text-anchor="middle" font-weight="normal" font-style="normal" fill="#222" >1746</text>
<text x="125.00" y="610.20" font-size="9.6" text-anchor="middle" font-weight="normal" font-style="normal" fill="#222" >Overall</text>
<line x1="52.40" y1="539.50" x2="52.40" y2="601.00" stroke="#333" stroke-width="1" />
<line x1="51.90" y1="600.50" x2="149.50" y2="600.50" stroke="#333" stroke-width="1" />
<line x1="49.60" y1="600.50" x2="52.40" y2="600.50" stroke="#333" stroke-width="0.9" />
<text x="48.60" y="603.00" font-size="7.1" text-anchor="end" font-weight="normal" font-style="normal" fill="#4d4d4d" >0</text>
<line x1="49.60" y1="556.85" x2="52.40" y2="556.85" stroke="#333" stroke-width="0.9" />
<text x="48.60" y="559.35" font-size="7.1" text-anchor="end" font-weight="normal" font-style="normal" fill="#4d4d4d" >2500</text>
<text x="89.20" y="421.20" font-size="9.7" text-anchor="middle" font-weight="bold" font-style="italic" fill="#222" >Skeletonema</text>
<text x="89.20" y="431.50" font-size="9.7" text-anchor="middle" font-weight="bold" font-style="italic" fill="#222" >marinoi</text>
<line x1="39.10" y1="436.80" x2="139.20" y2="436.80" stroke="#444" stroke-width="1.0" />
<text x="98.40" y="622.50" font-size="9.8" text-anchor="middle" font-weight="normal" font-style="normal" fill="#222" >Sexual cell stage</text>
<g transform="translate(16.8,572) rotate(-90)"><text x="0" y="0" font-size="9.8" text-anchor="middle" fill="#222">Number of</text><text x="0" y="9" font-size="9.8" text-anchor="middle" fill="#222">DE genes</text></g>
<rect x="186.90" y="593.52" width="13.60" height="6.68" fill="#2a9bd2" stroke="none" stroke-width="0" />
<rect x="186.90" y="600.20" width="13.60" height="0.30" fill="#f0603d" stroke="none" stroke-width="0" />
<text x="193.70" y="591.62" font-size="8.2" text-anchor="middle" font-weight="normal" font-style="normal" fill="#222" >400</text>
<text x="193.70" y="610.20" font-size="9.6" text-anchor="middle" font-weight="normal" font-style="normal" fill="#222" >S+</text>
<rect x="211.50" y="559.91" width="13.60" height="27.09" fill="#2a9bd2" stroke="none" stroke-width="0" />
<rect x="211.50" y="587.00" width="13.60" height="13.50" fill="#f0603d" stroke="none" stroke-width="0" />
<text x="218.30" y="558.01" font-size="8.2" text-anchor="middle" font-weight="normal" font-style="normal" fill="#222" >2325</text>
<text x="218.30" y="610.20" font-size="9.6" text-anchor="middle" font-weight="normal" font-style="normal" fill="#222" >S-</text>
<rect x="236.00" y="522.37" width="13.60" height="39.33" fill="#2a9bd2" stroke="none" stroke-width="0" />
<rect x="236.00" y="561.70" width="13.60" height="38.80" fill="#f0603d" stroke="none" stroke-width="0" />
<text x="242.80" y="520.47" font-size="8.2" text-anchor="middle" font-weight="normal" font-style="normal" fill="#222" >4475</text>
<text x="242.80" y="610.20" font-size="9.6" text-anchor="middle" font-weight="normal" font-style="normal" fill="#222" >P</text>
<rect x="260.60" y="530.42" width="13.60" height="37.38" fill="#2a9bd2" stroke="none" stroke-width="0" />
<rect x="260.60" y="567.80" width="13.60" height="32.70" fill="#f0603d" stroke="none" stroke-width="0" />
<text x="267.40" y="528.52" font-size="8.2" text-anchor="middle" font-weight="normal" font-style="normal" fill="#222" >4014</text>
<text x="267.40" y="610.20" font-size="9.6" text-anchor="middle" font-weight="normal" font-style="normal" fill="#222" >GZ</text>
<rect x="285.30" y="544.79" width="13.60" height="32.21" fill="#2a9bd2" stroke="none" stroke-width="0" />
<rect x="285.30" y="577.00" width="13.60" height="23.50" fill="#f0603d" stroke="none" stroke-width="0" />
<text x="292.10" y="542.89" font-size="8.2" text-anchor="middle" font-weight="normal" font-style="normal" fill="#222" >3191</text>
<text x="292.10" y="610.20" font-size="9.6" text-anchor="middle" font-weight="normal" font-style="normal" fill="#222" >A</text>
<rect x="320.50" y="451.09" width="13.60" height="74.91" fill="#2a9bd2" stroke="none" stroke-width="0" />
<rect x="320.50" y="526.00" width="13.60" height="74.50" fill="#f0603d" stroke="none" stroke-width="0" />
<text x="327.30" y="449.19" font-size="8.2" text-anchor="middle" font-weight="normal" font-style="normal" fill="#222" >8557</text>
<text x="327.30" y="610.20" font-size="9.6" text-anchor="middle" font-weight="normal" font-style="normal" fill="#222" >Overall</text>
<line x1="178.90" y1="456.00" x2="178.90" y2="601.00" stroke="#333" stroke-width="1" />
<line x1="178.40" y1="600.50" x2="342.50" y2="600.50" stroke="#333" stroke-width="1" />
<line x1="176.10" y1="600.50" x2="178.90" y2="600.50" stroke="#333" stroke-width="0.9" />
<text x="175.10" y="603.00" font-size="7.1" text-anchor="end" font-weight="normal" font-style="normal" fill="#4d4d4d" >0</text>
<line x1="176.10" y1="556.85" x2="178.90" y2="556.85" stroke="#333" stroke-width="0.9" />
<text x="175.10" y="559.35" font-size="7.1" text-anchor="end" font-weight="normal" font-style="normal" fill="#4d4d4d" >2500</text>
<line x1="176.10" y1="513.20" x2="178.90" y2="513.20" stroke="#333" stroke-width="0.9" />
<text x="175.10" y="515.70" font-size="7.1" text-anchor="end" font-weight="normal" font-style="normal" fill="#4d4d4d" >5000</text>
<line x1="176.10" y1="469.55" x2="178.90" y2="469.55" stroke="#333" stroke-width="0.9" />
<text x="175.10" y="472.05" font-size="7.1" text-anchor="end" font-weight="normal" font-style="normal" fill="#4d4d4d" >7500</text>
<text x="261.40" y="421.20" font-size="9.7" text-anchor="middle" font-weight="bold" font-style="italic" fill="#222" >Seminavis</text>
<text x="261.40" y="431.50" font-size="9.7" text-anchor="middle" font-weight="bold" font-style="italic" fill="#222" >robusta</text>
<line x1="175.50" y1="436.80" x2="346.00" y2="436.80" stroke="#444" stroke-width="1.0" />
<text x="258.30" y="622.50" font-size="9.8" text-anchor="middle" font-weight="normal" font-style="normal" fill="#222" >Sexual cell stage</text>
<rect x="60.10" y="729.91" width="13.60" height="16.89" fill="#2a9bd2" stroke="none" stroke-width="0" />
<rect x="60.10" y="746.80" width="13.60" height="15.80" fill="#f0603d" stroke="none" stroke-width="0" />
<text x="66.90" y="728.01" font-size="8.2" text-anchor="middle" font-weight="normal" font-style="normal" fill="#222" >1872</text>
<text x="66.90" y="772.30" font-size="9.6" text-anchor="middle" font-weight="normal" font-style="normal" fill="#222" >S</text>
<rect x="83.60" y="701.05" width="13.60" height="34.45" fill="#2a9bd2" stroke="none" stroke-width="0" />
<rect x="83.60" y="735.50" width="13.60" height="27.10" fill="#f0603d" stroke="none" stroke-width="0" />
<text x="90.40" y="699.15" font-size="8.2" text-anchor="middle" font-weight="normal" font-style="normal" fill="#222" >3525</text>
<text x="90.40" y="772.30" font-size="9.6" text-anchor="middle" font-weight="normal" font-style="normal" fill="#222" >GZ</text>
<rect x="107.80" y="715.42" width="13.60" height="28.58" fill="#2a9bd2" stroke="none" stroke-width="0" />
<rect x="107.80" y="744.00" width="13.60" height="18.60" fill="#f0603d" stroke="none" stroke-width="0" />
<text x="114.60" y="713.52" font-size="8.2" text-anchor="middle" font-weight="normal" font-style="normal" fill="#222" >2702</text>
<text x="114.60" y="772.30" font-size="9.6" text-anchor="middle" font-weight="normal" font-style="normal" fill="#222" >A</text>
<rect x="142.80" y="684.22" width="13.60" height="41.38" fill="#2a9bd2" stroke="none" stroke-width="0" />
<rect x="142.80" y="725.60" width="13.60" height="37.00" fill="#f0603d" stroke="none" stroke-width="0" />
<text x="149.60" y="682.32" font-size="8.2" text-anchor="middle" font-weight="normal" font-style="normal" fill="#222" >4489</text>
<text x="149.60" y="772.30" font-size="9.6" text-anchor="middle" font-weight="normal" font-style="normal" fill="#222" >Overall</text>
<line x1="52.40" y1="666.50" x2="52.40" y2="763.10" stroke="#333" stroke-width="1" />
<line x1="51.90" y1="762.60" x2="164.80" y2="762.60" stroke="#333" stroke-width="1" />
<line x1="49.60" y1="762.60" x2="52.40" y2="762.60" stroke="#333" stroke-width="0.9" />
<text x="48.60" y="765.10" font-size="7.1" text-anchor="end" font-weight="normal" font-style="normal" fill="#4d4d4d" >0</text>
<line x1="49.60" y1="718.95" x2="52.40" y2="718.95" stroke="#333" stroke-width="0.9" />
<text x="48.60" y="721.45" font-size="7.1" text-anchor="end" font-weight="normal" font-style="normal" fill="#4d4d4d" >2500</text>
<line x1="49.60" y1="675.30" x2="52.40" y2="675.30" stroke="#333" stroke-width="0.9" />
<text x="48.60" y="677.80" font-size="7.1" text-anchor="end" font-weight="normal" font-style="normal" fill="#4d4d4d" >5000</text>
<text x="106.80" y="645.00" font-size="9.7" text-anchor="middle" font-weight="bold" font-style="italic" fill="#222" >Pseudo-nitzschia</text>
<text x="106.80" y="655.30" font-size="9.7" text-anchor="middle" font-weight="bold" font-style="italic" fill="#222" >multistriata</text>
<line x1="48.50" y1="660.70" x2="164.80" y2="660.70" stroke="#444" stroke-width="1.0" />
<text x="109.40" y="784.60" font-size="9.8" text-anchor="middle" font-weight="normal" font-style="normal" fill="#222" >Sexual cell stage</text>
<g transform="translate(16.8,708.7) rotate(-90)"><text x="0" y="0" font-size="9.8" text-anchor="middle" fill="#222">Number of</text><text x="0" y="9" font-size="9.8" text-anchor="middle" fill="#222">DE genes</text></g>
<rect x="219.60" y="750.17" width="13.60" height="4.73" fill="#2a9bd2" stroke="none" stroke-width="0" />
<rect x="219.60" y="754.90" width="13.60" height="7.70" fill="#f0603d" stroke="none" stroke-width="0" />
<text x="226.40" y="748.27" font-size="8.2" text-anchor="middle" font-weight="normal" font-style="normal" fill="#222" >712</text>
<text x="226.40" y="772.30" font-size="9.6" text-anchor="middle" font-weight="normal" font-style="normal" fill="#222" >P</text>
<rect x="243.60" y="725.48" width="13.60" height="28.42" fill="#2a9bd2" stroke="none" stroke-width="0" />
<rect x="243.60" y="753.90" width="13.60" height="8.70" fill="#f0603d" stroke="none" stroke-width="0" />
<text x="250.40" y="723.58" font-size="8.2" text-anchor="middle" font-weight="normal" font-style="normal" fill="#222" >2126</text>
<text x="250.40" y="772.30" font-size="9.6" text-anchor="middle" font-weight="normal" font-style="normal" fill="#222" >GZ</text>
<rect x="267.60" y="698.02" width="13.60" height="36.98" fill="#2a9bd2" stroke="none" stroke-width="0" />
<rect x="267.60" y="735.00" width="13.60" height="27.60" fill="#f0603d" stroke="none" stroke-width="0" />
<text x="274.40" y="696.12" font-size="8.2" text-anchor="middle" font-weight="normal" font-style="normal" fill="#222" >3699</text>
<text x="274.40" y="772.30" font-size="9.6" text-anchor="middle" font-weight="normal" font-style="normal" fill="#222" >A</text>
<rect x="302.50" y="681.52" width="13.60" height="45.28" fill="#2a9bd2" stroke="none" stroke-width="0" />
<rect x="302.50" y="726.80" width="13.60" height="35.80" fill="#f0603d" stroke="none" stroke-width="0" />
<text x="309.30" y="679.62" font-size="8.2" text-anchor="middle" font-weight="normal" font-style="normal" fill="#222" >4644</text>
<text x="309.30" y="772.30" font-size="9.6" text-anchor="middle" font-weight="normal" font-style="normal" fill="#222" >Overall</text>
<line x1="212.30" y1="666.50" x2="212.30" y2="763.10" stroke="#333" stroke-width="1" />
<line x1="211.80" y1="762.60" x2="324.70" y2="762.60" stroke="#333" stroke-width="1" />
<line x1="209.50" y1="762.60" x2="212.30" y2="762.60" stroke="#333" stroke-width="0.9" />
<text x="208.50" y="765.10" font-size="7.1" text-anchor="end" font-weight="normal" font-style="normal" fill="#4d4d4d" >0</text>
<line x1="209.50" y1="718.95" x2="212.30" y2="718.95" stroke="#333" stroke-width="0.9" />
<text x="208.50" y="721.45" font-size="7.1" text-anchor="end" font-weight="normal" font-style="normal" fill="#4d4d4d" >2500</text>
<line x1="209.50" y1="675.30" x2="212.30" y2="675.30" stroke="#333" stroke-width="0.9" />
<text x="208.50" y="677.80" font-size="7.1" text-anchor="end" font-weight="normal" font-style="normal" fill="#4d4d4d" >5000</text>
<text x="268.80" y="645.00" font-size="9.7" text-anchor="middle" font-weight="bold" font-style="italic" fill="#222" >Cylindrotheca</text>
<text x="268.80" y="655.30" font-size="9.7" text-anchor="middle" font-weight="bold" font-style="italic" fill="#222" >closterium</text>
<line x1="209.20" y1="660.70" x2="328.60" y2="660.70" stroke="#444" stroke-width="1.0" />
<text x="268.80" y="784.60" font-size="9.8" text-anchor="middle" font-weight="normal" font-style="normal" fill="#222" >Sexual cell stage</text>
<text x="363.60" y="416.30" font-size="12.5" text-anchor="start" font-weight="bold" font-style="normal" fill="#111" >c</text>
<rect x="398.90" y="440.20" width="20.60" height="18.72" fill="#3b528a" stroke="none" stroke-width="0" />
<rect x="418.50" y="440.20" width="19.60" height="18.72" fill="#433a82" stroke="none" stroke-width="0" />
<rect x="398.90" y="457.92" width="20.60" height="18.72" fill="#34628d" stroke="none" stroke-width="0" />
<rect x="418.50" y="457.92" width="19.60" height="18.72" fill="#3b528a" stroke="none" stroke-width="0" />
<rect x="398.90" y="475.64" width="20.60" height="18.72" fill="#2e6e8e" stroke="none" stroke-width="0" />
<rect x="418.50" y="475.64" width="19.60" height="18.72" fill="#2e6e8e" stroke="none" stroke-width="0" />
<rect x="398.90" y="493.36" width="20.60" height="18.72" fill="#33648d" stroke="none" stroke-width="0" />
<rect x="418.50" y="493.36" width="19.60" height="18.72" fill="#33648d" stroke="none" stroke-width="0" />
<rect x="398.90" y="511.08" width="20.60" height="17.72" fill="#461264" stroke="none" stroke-width="0" />
<rect x="418.50" y="511.08" width="19.60" height="17.72" fill="#440154" stroke="none" stroke-width="0" />
<rect x="448.30" y="440.20" width="20.60" height="18.72" fill="#3b528a" stroke="none" stroke-width="0" />
<rect x="467.90" y="440.20" width="20.60" height="18.72" fill="#2a788e" stroke="none" stroke-width="0" />
<rect x="487.50" y="440.20" width="19.60" height="18.72" fill="#228e8c" stroke="none" stroke-width="0" />
<rect x="448.30" y="457.92" width="20.60" height="18.72" fill="#3b528a" stroke="none" stroke-width="0" />
<rect x="467.90" y="457.92" width="20.60" height="18.72" fill="#228e8c" stroke="none" stroke-width="0" />
<rect x="487.50" y="457.92" width="19.60" height="18.72" fill="#21988a" stroke="none" stroke-width="0" />
<rect x="448.30" y="475.64" width="20.60" height="18.72" fill="#33648d" stroke="none" stroke-width="0" />
<rect x="467.90" y="475.64" width="20.60" height="18.72" fill="#229f87" stroke="none" stroke-width="0" />
<rect x="487.50" y="475.64" width="19.60" height="18.72" fill="#2caf7e" stroke="none" stroke-width="0" />
<rect x="448.30" y="493.36" width="20.60" height="18.72" fill="#3f4988" stroke="none" stroke-width="0" />
<rect x="467.90" y="493.36" width="20.60" height="18.72" fill="#21918c" stroke="none" stroke-width="0" />
<rect x="487.50" y="493.36" width="19.60" height="18.72" fill="#229c88" stroke="none" stroke-width="0" />
<rect x="448.30" y="511.08" width="20.60" height="17.72" fill="#440154" stroke="none" stroke-width="0" />
<rect x="467.90" y="511.08" width="20.60" height="17.72" fill="#482475" stroke="none" stroke-width="0" />
<rect x="487.50" y="511.08" width="19.60" height="17.72" fill="#3f4988" stroke="none" stroke-width="0" />
<rect x="517.30" y="440.20" width="20.60" height="18.72" fill="#2d708e" stroke="none" stroke-width="0" />
<rect x="536.90" y="440.20" width="20.60" height="18.72" fill="#26828d" stroke="none" stroke-width="0" />
<rect x="556.50" y="440.20" width="19.60" height="18.72" fill="#2a788e" stroke="none" stroke-width="0" />
<rect x="517.30" y="457.92" width="20.60" height="18.72" fill="#26828d" stroke="none" stroke-width="0" />
<rect x="536.90" y="457.92" width="20.60" height="18.72" fill="#21938b" stroke="none" stroke-width="0" />
<rect x="556.50" y="457.92" width="19.60" height="18.72" fill="#228e8c" stroke="none" stroke-width="0" />
<rect x="517.30" y="475.64" width="20.60" height="18.72" fill="#228e8c" stroke="none" stroke-width="0" />
<rect x="536.90" y="475.64" width="20.60" height="18.72" fill="#2caf7e" stroke="none" stroke-width="0" />
<rect x="556.50" y="475.64" width="19.60" height="18.72" fill="#22a386" stroke="none" stroke-width="0" />
<rect x="517.30" y="493.36" width="20.60" height="18.72" fill="#26848d" stroke="none" stroke-width="0" />
<rect x="536.90" y="493.36" width="20.60" height="18.72" fill="#229c88" stroke="none" stroke-width="0" />
<rect x="556.50" y="493.36" width="19.60" height="18.72" fill="#21938b" stroke="none" stroke-width="0" />
<rect x="517.30" y="511.08" width="20.60" height="17.72" fill="#472a79" stroke="none" stroke-width="0" />
<rect x="536.90" y="511.08" width="20.60" height="17.72" fill="#414487" stroke="none" stroke-width="0" />
<rect x="556.50" y="511.08" width="19.60" height="17.72" fill="#423e83" stroke="none" stroke-width="0" />
<rect x="586.30" y="440.20" width="20.60" height="18.72" fill="#2a788e" stroke="none" stroke-width="0" />
<rect x="605.90" y="440.20" width="20.60" height="18.72" fill="#22a386" stroke="none" stroke-width="0" />
<rect x="625.50" y="440.20" width="20.60" height="18.72" fill="#7ad151" stroke="none" stroke-width="0" />
<rect x="645.10" y="440.20" width="20.60" height="18.72" fill="#8ed544" stroke="none" stroke-width="0" />
<rect x="664.70" y="440.20" width="19.60" height="18.72" fill="#cae126" stroke="none" stroke-width="0" />
<rect x="586.30" y="457.92" width="20.60" height="18.72" fill="#2a788e" stroke="none" stroke-width="0" />
<rect x="605.90" y="457.92" width="20.60" height="18.72" fill="#33b47a" stroke="none" stroke-width="0" />
<rect x="625.50" y="457.92" width="20.60" height="18.72" fill="#b6de2a" stroke="none" stroke-width="0" />
<rect x="645.10" y="457.92" width="20.60" height="18.72" fill="#dde326" stroke="none" stroke-width="0" />
<rect x="664.70" y="457.92" width="19.60" height="18.72" fill="#af1527" stroke="none" stroke-width="0" />
<rect x="586.30" y="475.64" width="20.60" height="18.72" fill="#2a788e" stroke="none" stroke-width="0" />
<rect x="605.90" y="475.64" width="20.60" height="18.72" fill="#41bd72" stroke="none" stroke-width="0" />
<rect x="625.50" y="475.64" width="20.60" height="18.72" fill="#fde725" stroke="none" stroke-width="0" />
<rect x="645.10" y="475.64" width="20.60" height="18.72" fill="#a91227" stroke="none" stroke-width="0" />
<rect x="664.70" y="475.64" width="19.60" height="18.72" fill="#b81925" stroke="none" stroke-width="0" />
<rect x="586.30" y="493.36" width="20.60" height="18.72" fill="#2a788e" stroke="none" stroke-width="0" />
<rect x="605.90" y="493.36" width="20.60" height="18.72" fill="#b0dc2f" stroke="none" stroke-width="0" />
<rect x="625.50" y="493.36" width="20.60" height="18.72" fill="#de4438" stroke="none" stroke-width="0" />
<rect x="645.10" y="493.36" width="20.60" height="18.72" fill="#d7352c" stroke="none" stroke-width="0" />
<rect x="664.70" y="493.36" width="19.60" height="18.72" fill="#f17262" stroke="none" stroke-width="0" />
<rect x="586.30" y="511.08" width="20.60" height="17.72" fill="#229c88" stroke="none" stroke-width="0" />
<rect x="605.90" y="511.08" width="20.60" height="17.72" fill="#e65748" stroke="none" stroke-width="0" />
<rect x="625.50" y="511.08" width="20.60" height="17.72" fill="#f17262" stroke="none" stroke-width="0" />
<rect x="645.10" y="511.08" width="20.60" height="17.72" fill="#e95b4c" stroke="none" stroke-width="0" />
<rect x="664.70" y="511.08" width="19.60" height="17.72" fill="#e65748" stroke="none" stroke-width="0" />
<rect x="398.90" y="538.75" width="20.60" height="18.72" fill="#34628d" stroke="none" stroke-width="0" />
<rect x="418.50" y="538.75" width="19.60" height="18.72" fill="#2e6e8e" stroke="none" stroke-width="0" />
<rect x="398.90" y="556.47" width="20.60" height="18.72" fill="#34628d" stroke="none" stroke-width="0" />
<rect x="418.50" y="556.47" width="19.60" height="18.72" fill="#2a788e" stroke="none" stroke-width="0" />
<rect x="398.90" y="574.19" width="20.60" height="17.72" fill="#3b528a" stroke="none" stroke-width="0" />
<rect x="418.50" y="574.19" width="19.60" height="17.72" fill="#375a8c" stroke="none" stroke-width="0" />
<rect x="448.30" y="538.75" width="20.60" height="18.72" fill="#3b528a" stroke="none" stroke-width="0" />
<rect x="467.90" y="538.75" width="20.60" height="18.72" fill="#219a89" stroke="none" stroke-width="0" />
<rect x="487.50" y="538.75" width="19.60" height="18.72" fill="#29ad80" stroke="none" stroke-width="0" />
<rect x="448.30" y="556.47" width="20.60" height="18.72" fill="#365c8c" stroke="none" stroke-width="0" />
<rect x="467.90" y="556.47" width="20.60" height="18.72" fill="#22a386" stroke="none" stroke-width="0" />
<rect x="487.50" y="556.47" width="19.60" height="18.72" fill="#33b47a" stroke="none" stroke-width="0" />
<rect x="448.30" y="574.19" width="20.60" height="17.72" fill="#414487" stroke="none" stroke-width="0" />
<rect x="467.90" y="574.19" width="20.60" height="17.72" fill="#228e8c" stroke="none" stroke-width="0" />
<rect x="487.50" y="574.19" width="19.60" height="17.72" fill="#219a89" stroke="none" stroke-width="0" />
<rect x="517.30" y="538.75" width="20.60" height="18.72" fill="#6fcd57" stroke="none" stroke-width="0" />
<rect x="536.90" y="538.75" width="20.60" height="18.72" fill="#b0dc2f" stroke="none" stroke-width="0" />
<rect x="556.50" y="538.75" width="19.60" height="18.72" fill="#dde326" stroke="none" stroke-width="0" />
<rect x="517.30" y="556.47" width="20.60" height="18.72" fill="#6fcd57" stroke="none" stroke-width="0" />
<rect x="536.90" y="556.47" width="20.60" height="18.72" fill="#fde725" stroke="none" stroke-width="0" />
<rect x="556.50" y="556.47" width="19.60" height="18.72" fill="#aa1227" stroke="none" stroke-width="0" />
<rect x="517.30" y="574.19" width="20.60" height="17.72" fill="#a9db33" stroke="none" stroke-width="0" />
<rect x="536.90" y="574.19" width="20.60" height="17.72" fill="#bb1a24" stroke="none" stroke-width="0" />
<rect x="556.50" y="574.19" width="19.60" height="17.72" fill="#b61825" stroke="none" stroke-width="0" />
<rect x="586.30" y="538.75" width="20.60" height="18.72" fill="#e2bdb8" stroke="none" stroke-width="0" />
<rect x="605.90" y="538.75" width="20.60" height="18.72" fill="#ea5e4f" stroke="none" stroke-width="0" />
<rect x="625.50" y="538.75" width="20.60" height="18.72" fill="#de463a" stroke="none" stroke-width="0" />
<rect x="645.10" y="538.75" width="20.60" height="18.72" fill="#e95b4c" stroke="none" stroke-width="0" />
<rect x="664.70" y="538.75" width="19.60" height="18.72" fill="#f37f6f" stroke="none" stroke-width="0" />
<rect x="586.30" y="556.47" width="20.60" height="18.72" fill="#f38172" stroke="none" stroke-width="0" />
<rect x="605.90" y="556.47" width="20.60" height="18.72" fill="#f27565" stroke="none" stroke-width="0" />
<rect x="625.50" y="556.47" width="20.60" height="18.72" fill="#da3a30" stroke="none" stroke-width="0" />
<rect x="645.10" y="556.47" width="20.60" height="18.72" fill="#e25042" stroke="none" stroke-width="0" />
<rect x="664.70" y="556.47" width="19.60" height="18.72" fill="#f27565" stroke="none" stroke-width="0" />
<rect x="586.30" y="574.19" width="20.60" height="17.72" fill="#f38172" stroke="none" stroke-width="0" />
<rect x="605.90" y="574.19" width="20.60" height="17.72" fill="#e25042" stroke="none" stroke-width="0" />
<rect x="625.50" y="574.19" width="20.60" height="17.72" fill="#f48e81" stroke="none" stroke-width="0" />
<rect x="645.10" y="574.19" width="20.60" height="17.72" fill="#cac9cc" stroke="none" stroke-width="0" />
<rect x="664.70" y="574.19" width="19.60" height="17.72" fill="#d7c4c2" stroke="none" stroke-width="0" />
<rect x="398.90" y="601.86" width="20.60" height="18.72" fill="#33648d" stroke="none" stroke-width="0" />
<rect x="418.50" y="601.86" width="19.60" height="18.72" fill="#33648d" stroke="none" stroke-width="0" />
<rect x="398.90" y="619.58" width="20.60" height="18.72" fill="#34628d" stroke="none" stroke-width="0" />
<rect x="418.50" y="619.58" width="19.60" height="18.72" fill="#365c8c" stroke="none" stroke-width="0" />
<rect x="398.90" y="637.30" width="20.60" height="17.72" fill="#472a79" stroke="none" stroke-width="0" />
<rect x="418.50" y="637.30" width="19.60" height="17.72" fill="#472a79" stroke="none" stroke-width="0" />
<rect x="448.30" y="601.86" width="20.60" height="18.72" fill="#2a788e" stroke="none" stroke-width="0" />
<rect x="467.90" y="601.86" width="20.60" height="18.72" fill="#5fc860" stroke="none" stroke-width="0" />
<rect x="487.50" y="601.86" width="19.60" height="18.72" fill="#cae126" stroke="none" stroke-width="0" />
<rect x="448.30" y="619.58" width="20.60" height="18.72" fill="#2a788e" stroke="none" stroke-width="0" />
<rect x="467.90" y="619.58" width="20.60" height="18.72" fill="#7ad151" stroke="none" stroke-width="0" />
<rect x="487.50" y="619.58" width="19.60" height="18.72" fill="#b81925" stroke="none" stroke-width="0" />
<rect x="448.30" y="637.30" width="20.60" height="17.72" fill="#229c88" stroke="none" stroke-width="0" />
<rect x="467.90" y="637.30" width="20.60" height="17.72" fill="#e14e40" stroke="none" stroke-width="0" />
<rect x="487.50" y="637.30" width="19.60" height="17.72" fill="#cf2623" stroke="none" stroke-width="0" />
<rect x="517.30" y="601.86" width="20.60" height="18.72" fill="#eea8a0" stroke="none" stroke-width="0" />
<rect x="536.90" y="601.86" width="20.60" height="18.72" fill="#e8594a" stroke="none" stroke-width="0" />
<rect x="556.50" y="601.86" width="19.60" height="18.72" fill="#ee6757" stroke="none" stroke-width="0" />
<rect x="517.30" y="619.58" width="20.60" height="18.72" fill="#f37f6f" stroke="none" stroke-width="0" />
<rect x="536.90" y="619.58" width="20.60" height="18.72" fill="#e55446" stroke="none" stroke-width="0" />
<rect x="556.50" y="619.58" width="19.60" height="18.72" fill="#f27767" stroke="none" stroke-width="0" />
<rect x="517.30" y="637.30" width="20.60" height="17.72" fill="#ddc1bd" stroke="none" stroke-width="0" />
<rect x="536.90" y="637.30" width="20.60" height="17.72" fill="#de463a" stroke="none" stroke-width="0" />
<rect x="556.50" y="637.30" width="19.60" height="17.72" fill="#f38172" stroke="none" stroke-width="0" />
<rect x="586.30" y="601.86" width="20.60" height="18.72" fill="#4a96cb" stroke="none" stroke-width="0" />
<rect x="605.90" y="601.86" width="20.60" height="18.72" fill="#f1a39a" stroke="none" stroke-width="0" />
<rect x="625.50" y="601.86" width="20.60" height="18.72" fill="#e14e40" stroke="none" stroke-width="0" />
<rect x="645.10" y="601.86" width="20.60" height="18.72" fill="#ee6757" stroke="none" stroke-width="0" />
<rect x="664.70" y="601.86" width="19.60" height="18.72" fill="#f17060" stroke="none" stroke-width="0" />
<rect x="586.30" y="619.58" width="20.60" height="18.72" fill="#7bb3d9" stroke="none" stroke-width="0" />
<rect x="605.90" y="619.58" width="20.60" height="18.72" fill="#f17060" stroke="none" stroke-width="0" />
<rect x="625.50" y="619.58" width="20.60" height="18.72" fill="#e95b4c" stroke="none" stroke-width="0" />
<rect x="645.10" y="619.58" width="20.60" height="18.72" fill="#f17262" stroke="none" stroke-width="0" />
<rect x="664.70" y="619.58" width="19.60" height="18.72" fill="#f37a6a" stroke="none" stroke-width="0" />
<rect x="586.30" y="637.30" width="20.60" height="17.72" fill="#cac9cc" stroke="none" stroke-width="0" />
<rect x="605.90" y="637.30" width="20.60" height="17.72" fill="#f29f95" stroke="none" stroke-width="0" />
<rect x="625.50" y="637.30" width="20.60" height="17.72" fill="#f27767" stroke="none" stroke-width="0" />
<rect x="645.10" y="637.30" width="20.60" height="17.72" fill="#e25042" stroke="none" stroke-width="0" />
<rect x="664.70" y="637.30" width="19.60" height="17.72" fill="#e65748" stroke="none" stroke-width="0" />
<rect x="398.90" y="664.97" width="20.60" height="18.72" fill="#21918c" stroke="none" stroke-width="0" />
<rect x="418.50" y="664.97" width="19.60" height="18.72" fill="#3ab876" stroke="none" stroke-width="0" />
<rect x="398.90" y="682.69" width="20.60" height="17.72" fill="#3ab876" stroke="none" stroke-width="0" />
<rect x="418.50" y="682.69" width="19.60" height="17.72" fill="#cf2623" stroke="none" stroke-width="0" />
<rect x="448.30" y="664.97" width="20.60" height="18.72" fill="#ef6a5a" stroke="none" stroke-width="0" />
<rect x="467.90" y="664.97" width="20.60" height="18.72" fill="#f37f6f" stroke="none" stroke-width="0" />
<rect x="487.50" y="664.97" width="19.60" height="18.72" fill="#d2c8c7" stroke="none" stroke-width="0" />
<rect x="448.30" y="682.69" width="20.60" height="17.72" fill="#f06d5d" stroke="none" stroke-width="0" />
<rect x="467.90" y="682.69" width="20.60" height="17.72" fill="#9cbfda" stroke="none" stroke-width="0" />
<rect x="487.50" y="682.69" width="19.60" height="17.72" fill="#ddc1bd" stroke="none" stroke-width="0" />
<rect x="517.30" y="664.97" width="20.60" height="18.72" fill="#d2c8c7" stroke="none" stroke-width="0" />
<rect x="536.90" y="664.97" width="20.60" height="18.72" fill="#e8b3ac" stroke="none" stroke-width="0" />
<rect x="556.50" y="664.97" width="19.60" height="18.72" fill="#b7c6d5" stroke="none" stroke-width="0" />
<rect x="517.30" y="682.69" width="20.60" height="17.72" fill="#e2bdb8" stroke="none" stroke-width="0" />
<rect x="536.90" y="682.69" width="20.60" height="17.72" fill="#f37c6d" stroke="none" stroke-width="0" />
<rect x="556.50" y="682.69" width="19.60" height="17.72" fill="#f17262" stroke="none" stroke-width="0" />
<rect x="586.30" y="664.97" width="20.60" height="18.72" fill="#f48a7c" stroke="none" stroke-width="0" />
<rect x="605.90" y="664.97" width="20.60" height="18.72" fill="#f2968b" stroke="none" stroke-width="0" />
<rect x="625.50" y="664.97" width="20.60" height="18.72" fill="#f06d5d" stroke="none" stroke-width="0" />
<rect x="645.10" y="664.97" width="20.60" height="18.72" fill="#f27767" stroke="none" stroke-width="0" />
<rect x="664.70" y="664.97" width="19.60" height="18.72" fill="#eb6152" stroke="none" stroke-width="0" />
<rect x="586.30" y="682.69" width="20.60" height="17.72" fill="#cfcaca" stroke="none" stroke-width="0" />
<rect x="605.90" y="682.69" width="20.60" height="17.72" fill="#cfcaca" stroke="none" stroke-width="0" />
<rect x="625.50" y="682.69" width="20.60" height="17.72" fill="#f37c6d" stroke="none" stroke-width="0" />
<rect x="645.10" y="682.69" width="20.60" height="17.72" fill="#f37c6d" stroke="none" stroke-width="0" />
<rect x="664.70" y="682.69" width="19.60" height="17.72" fill="#f2968b" stroke="none" stroke-width="0" />
<text x="674.50" y="469.48" font-size="7.35" text-anchor="middle" font-weight="normal" font-style="normal" fill="#1c0808" fill-opacity="0.96">0.89</text>
<text x="654.90" y="487.20" font-size="7.35" text-anchor="middle" font-weight="normal" font-style="normal" fill="#1c0808" fill-opacity="0.96">0.94</text>
<text x="674.50" y="487.20" font-size="7.35" text-anchor="middle" font-weight="normal" font-style="normal" fill="#1c0808" fill-opacity="0.96">0.82</text>
<text x="635.30" y="504.92" font-size="7.35" text-anchor="middle" font-weight="normal" font-style="normal" fill="#1c0808" fill-opacity="0.96">0.46</text>
<text x="654.90" y="504.92" font-size="7.35" text-anchor="middle" font-weight="normal" font-style="normal" fill="#1c0808" fill-opacity="0.96">0.53</text>
<text x="674.50" y="504.92" font-size="7.35" text-anchor="middle" font-weight="normal" font-style="normal" fill="#1c0808" fill-opacity="0.96">0.28</text>
<text x="615.70" y="522.64" font-size="7.35" text-anchor="middle" font-weight="normal" font-style="normal" fill="#1c0808" fill-opacity="0.96">0.38</text>
<text x="635.30" y="522.64" font-size="7.35" text-anchor="middle" font-weight="normal" font-style="normal" fill="#1c0808" fill-opacity="0.96">0.28</text>
<text x="654.90" y="522.64" font-size="7.35" text-anchor="middle" font-weight="normal" font-style="normal" fill="#1c0808" fill-opacity="0.96">0.36</text>
<text x="674.50" y="522.64" font-size="7.35" text-anchor="middle" font-weight="normal" font-style="normal" fill="#1c0808" fill-opacity="0.96">0.38</text>
<text x="566.30" y="568.03" font-size="7.35" text-anchor="middle" font-weight="normal" font-style="normal" fill="#1c0808" fill-opacity="0.96">0.93</text>
<text x="546.70" y="585.75" font-size="7.35" text-anchor="middle" font-weight="normal" font-style="normal" fill="#1c0808" fill-opacity="0.96">0.8</text>
<text x="566.30" y="585.75" font-size="7.35" text-anchor="middle" font-weight="normal" font-style="normal" fill="#1c0808" fill-opacity="0.96">0.84</text>
<text x="596.10" y="550.31" font-size="7.35" text-anchor="middle" font-weight="normal" font-style="normal" fill="#1c0808" fill-opacity="0.96">0.07</text>
<text x="615.70" y="550.31" font-size="7.35" text-anchor="middle" font-weight="normal" font-style="normal" fill="#1c0808" fill-opacity="0.96">0.35</text>
<text x="635.30" y="550.31" font-size="7.35" text-anchor="middle" font-weight="normal" font-style="normal" fill="#1c0808" fill-opacity="0.96">0.45</text>
<text x="654.90" y="550.31" font-size="7.35" text-anchor="middle" font-weight="normal" font-style="normal" fill="#1c0808" fill-opacity="0.96">0.36</text>
<text x="674.50" y="550.31" font-size="7.35" text-anchor="middle" font-weight="normal" font-style="normal" fill="#1c0808" fill-opacity="0.96">0.23</text>
<text x="596.10" y="568.03" font-size="7.35" text-anchor="middle" font-weight="normal" font-style="normal" fill="#1c0808" fill-opacity="0.96">0.22</text>
<text x="615.70" y="568.03" font-size="7.35" text-anchor="middle" font-weight="normal" font-style="normal" fill="#1c0808" fill-opacity="0.96">0.27</text>
<text x="635.30" y="568.03" font-size="7.35" text-anchor="middle" font-weight="normal" font-style="normal" fill="#1c0808" fill-opacity="0.96">0.5</text>
<text x="654.90" y="568.03" font-size="7.35" text-anchor="middle" font-weight="normal" font-style="normal" fill="#1c0808" fill-opacity="0.96">0.41</text>
<text x="674.50" y="568.03" font-size="7.35" text-anchor="middle" font-weight="normal" font-style="normal" fill="#1c0808" fill-opacity="0.96">0.27</text>
<text x="596.10" y="585.75" font-size="7.35" text-anchor="middle" font-weight="normal" font-style="normal" fill="#1c0808" fill-opacity="0.96">0.22</text>
<text x="615.70" y="585.75" font-size="7.35" text-anchor="middle" font-weight="normal" font-style="normal" fill="#1c0808" fill-opacity="0.96">0.41</text>
<text x="635.30" y="585.75" font-size="7.35" text-anchor="middle" font-weight="normal" font-style="normal" fill="#1c0808" fill-opacity="0.96">0.17</text>
<text x="654.90" y="585.75" font-size="7.35" text-anchor="middle" font-weight="normal" font-style="normal" fill="#1c0808" fill-opacity="0.96">-0.01</text>
<text x="674.50" y="585.75" font-size="7.35" text-anchor="middle" font-weight="normal" font-style="normal" fill="#1c0808" fill-opacity="0.96">0.03</text>
<text x="497.30" y="631.14" font-size="7.35" text-anchor="middle" font-weight="normal" font-style="normal" fill="#1c0808" fill-opacity="0.96">0.82</text>
<text x="477.70" y="648.86" font-size="7.35" text-anchor="middle" font-weight="normal" font-style="normal" fill="#1c0808" fill-opacity="0.96">0.42</text>
<text x="497.30" y="648.86" font-size="7.35" text-anchor="middle" font-weight="normal" font-style="normal" fill="#1c0808" fill-opacity="0.96">0.61</text>
<text x="527.10" y="613.42" font-size="7.35" text-anchor="middle" font-weight="normal" font-style="normal" fill="#1c0808" fill-opacity="0.96">0.11</text>
<text x="546.70" y="613.42" font-size="7.35" text-anchor="middle" font-weight="normal" font-style="normal" fill="#1c0808" fill-opacity="0.96">0.37</text>
<text x="566.30" y="613.42" font-size="7.35" text-anchor="middle" font-weight="normal" font-style="normal" fill="#1c0808" fill-opacity="0.96">0.32</text>
<text x="527.10" y="631.14" font-size="7.35" text-anchor="middle" font-weight="normal" font-style="normal" fill="#1c0808" fill-opacity="0.96">0.23</text>
<text x="546.70" y="631.14" font-size="7.35" text-anchor="middle" font-weight="normal" font-style="normal" fill="#1c0808" fill-opacity="0.96">0.39</text>
<text x="566.30" y="631.14" font-size="7.35" text-anchor="middle" font-weight="normal" font-style="normal" fill="#1c0808" fill-opacity="0.96">0.26</text>
<text x="527.10" y="648.86" font-size="7.35" text-anchor="middle" font-weight="normal" font-style="normal" fill="#1c0808" fill-opacity="0.96">0.05</text>
<text x="546.70" y="648.86" font-size="7.35" text-anchor="middle" font-weight="normal" font-style="normal" fill="#1c0808" fill-opacity="0.96">0.45</text>
<text x="566.30" y="648.86" font-size="7.35" text-anchor="middle" font-weight="normal" font-style="normal" fill="#1c0808" fill-opacity="0.96">0.22</text>
<text x="596.10" y="613.42" font-size="7.35" text-anchor="middle" font-weight="normal" font-style="normal" fill="#1c0808" fill-opacity="0.96">-0.31</text>
<text x="615.70" y="613.42" font-size="7.35" text-anchor="middle" font-weight="normal" font-style="normal" fill="#1c0808" fill-opacity="0.96">0.12</text>
<text x="635.30" y="613.42" font-size="7.35" text-anchor="middle" font-weight="normal" font-style="normal" fill="#1c0808" fill-opacity="0.96">0.42</text>
<text x="654.90" y="613.42" font-size="7.35" text-anchor="middle" font-weight="normal" font-style="normal" fill="#1c0808" fill-opacity="0.96">0.32</text>
<text x="674.50" y="613.42" font-size="7.35" text-anchor="middle" font-weight="normal" font-style="normal" fill="#1c0808" fill-opacity="0.96">0.29</text>
<text x="596.10" y="631.14" font-size="7.35" text-anchor="middle" font-weight="normal" font-style="normal" fill="#1c0808" fill-opacity="0.96">-0.15</text>
<text x="615.70" y="631.14" font-size="7.35" text-anchor="middle" font-weight="normal" font-style="normal" fill="#1c0808" fill-opacity="0.96">0.29</text>
<text x="635.30" y="631.14" font-size="7.35" text-anchor="middle" font-weight="normal" font-style="normal" fill="#1c0808" fill-opacity="0.96">0.36</text>
<text x="654.90" y="631.14" font-size="7.35" text-anchor="middle" font-weight="normal" font-style="normal" fill="#1c0808" fill-opacity="0.96">0.28</text>
<text x="674.50" y="631.14" font-size="7.35" text-anchor="middle" font-weight="normal" font-style="normal" fill="#1c0808" fill-opacity="0.96">0.25</text>
<text x="596.10" y="648.86" font-size="7.35" text-anchor="middle" font-weight="normal" font-style="normal" fill="#1c0808" fill-opacity="0.96">-0.01</text>
<text x="615.70" y="648.86" font-size="7.35" text-anchor="middle" font-weight="normal" font-style="normal" fill="#1c0808" fill-opacity="0.96">0.13</text>
<text x="635.30" y="648.86" font-size="7.35" text-anchor="middle" font-weight="normal" font-style="normal" fill="#1c0808" fill-opacity="0.96">0.26</text>
<text x="654.90" y="648.86" font-size="7.35" text-anchor="middle" font-weight="normal" font-style="normal" fill="#1c0808" fill-opacity="0.96">0.41</text>
<text x="674.50" y="648.86" font-size="7.35" text-anchor="middle" font-weight="normal" font-style="normal" fill="#1c0808" fill-opacity="0.96">0.38</text>
<text x="428.30" y="694.25" font-size="7.35" text-anchor="middle" font-weight="normal" font-style="normal" fill="#1c0808" fill-opacity="0.96">0.61</text>
<text x="458.10" y="676.53" font-size="7.35" text-anchor="middle" font-weight="normal" font-style="normal" fill="#1c0808" fill-opacity="0.96">0.31</text>
<text x="477.70" y="676.53" font-size="7.35" text-anchor="middle" font-weight="normal" font-style="normal" fill="#1c0808" fill-opacity="0.96">0.23</text>
<text x="497.30" y="676.53" font-size="7.35" text-anchor="middle" font-weight="normal" font-style="normal" fill="#1c0808" fill-opacity="0.96">0.01</text>
<text x="458.10" y="694.25" font-size="7.35" text-anchor="middle" font-weight="normal" font-style="normal" fill="#1c0808" fill-opacity="0.96">0.3</text>
<text x="477.70" y="694.25" font-size="7.35" text-anchor="middle" font-weight="normal" font-style="normal" fill="#1c0808" fill-opacity="0.96">-0.1</text>
<text x="497.30" y="694.25" font-size="7.35" text-anchor="middle" font-weight="normal" font-style="normal" fill="#1c0808" fill-opacity="0.96">0.05</text>
<text x="527.10" y="676.53" font-size="7.35" text-anchor="middle" font-weight="normal" font-style="normal" fill="#1c0808" fill-opacity="0.96">0.01</text>
<text x="546.70" y="676.53" font-size="7.35" text-anchor="middle" font-weight="normal" font-style="normal" fill="#1c0808" fill-opacity="0.96">0.09</text>
<text x="566.30" y="676.53" font-size="7.35" text-anchor="middle" font-weight="normal" font-style="normal" fill="#1c0808" fill-opacity="0.96">-0.05</text>
<text x="527.10" y="694.25" font-size="7.35" text-anchor="middle" font-weight="normal" font-style="normal" fill="#1c0808" fill-opacity="0.96">0.07</text>
<text x="546.70" y="694.25" font-size="7.35" text-anchor="middle" font-weight="normal" font-style="normal" fill="#1c0808" fill-opacity="0.96">0.24</text>
<text x="566.30" y="694.25" font-size="7.35" text-anchor="middle" font-weight="normal" font-style="normal" fill="#1c0808" fill-opacity="0.96">0.28</text>
<text x="596.10" y="676.53" font-size="7.35" text-anchor="middle" font-weight="normal" font-style="normal" fill="#1c0808" fill-opacity="0.96">0.18</text>
<text x="615.70" y="676.53" font-size="7.35" text-anchor="middle" font-weight="normal" font-style="normal" fill="#1c0808" fill-opacity="0.96">0.15</text>
<text x="635.30" y="676.53" font-size="7.35" text-anchor="middle" font-weight="normal" font-style="normal" fill="#1c0808" fill-opacity="0.96">0.3</text>
<text x="654.90" y="676.53" font-size="7.35" text-anchor="middle" font-weight="normal" font-style="normal" fill="#1c0808" fill-opacity="0.96">0.26</text>
<text x="674.50" y="676.53" font-size="7.35" text-anchor="middle" font-weight="normal" font-style="normal" fill="#1c0808" fill-opacity="0.96">0.34</text>
<text x="596.10" y="694.25" font-size="7.35" text-anchor="middle" font-weight="normal" font-style="normal" fill="#1c0808" fill-opacity="0.96">0</text>
<text x="615.70" y="694.25" font-size="7.35" text-anchor="middle" font-weight="normal" font-style="normal" fill="#1c0808" fill-opacity="0.96">0</text>
<text x="635.30" y="694.25" font-size="7.35" text-anchor="middle" font-weight="normal" font-style="normal" fill="#1c0808" fill-opacity="0.96">0.24</text>
<text x="654.90" y="694.25" font-size="7.35" text-anchor="middle" font-weight="normal" font-style="normal" fill="#1c0808" fill-opacity="0.96">0.24</text>
<text x="674.50" y="694.25" font-size="7.35" text-anchor="middle" font-weight="normal" font-style="normal" fill="#1c0808" fill-opacity="0.96">0.15</text>
<text x="395.20" y="452.46" font-size="9.6" text-anchor="end" font-weight="normal" font-style="normal" fill="#222" >A</text>
<text x="395.20" y="470.18" font-size="9.6" text-anchor="end" font-weight="normal" font-style="normal" fill="#222" >GZ</text>
<text x="395.20" y="487.90" font-size="9.6" text-anchor="end" font-weight="normal" font-style="normal" fill="#222" >P</text>
<text x="395.20" y="505.62" font-size="9.6" text-anchor="end" font-weight="normal" font-style="normal" fill="#222" >S-</text>
<text x="395.20" y="523.34" font-size="9.6" text-anchor="end" font-weight="normal" font-style="normal" fill="#222" >S+</text>
<text x="395.20" y="551.01" font-size="9.6" text-anchor="end" font-weight="normal" font-style="normal" fill="#222" >A</text>
<text x="395.20" y="568.73" font-size="9.6" text-anchor="end" font-weight="normal" font-style="normal" fill="#222" >GZ</text>
<text x="395.20" y="586.45" font-size="9.6" text-anchor="end" font-weight="normal" font-style="normal" fill="#222" >S</text>
<text x="395.20" y="614.12" font-size="9.6" text-anchor="end" font-weight="normal" font-style="normal" fill="#222" >A</text>
<text x="395.20" y="631.84" font-size="9.6" text-anchor="end" font-weight="normal" font-style="normal" fill="#222" >GZ</text>
<text x="395.20" y="649.56" font-size="9.6" text-anchor="end" font-weight="normal" font-style="normal" fill="#222" >P</text>
<text x="395.20" y="677.23" font-size="9.6" text-anchor="end" font-weight="normal" font-style="normal" fill="#222" >GZ</text>
<text x="395.20" y="694.95" font-size="9.6" text-anchor="end" font-weight="normal" font-style="normal" fill="#222" >P</text>
<text x="408.70" y="712.60" font-size="9.6" text-anchor="middle" font-weight="normal" font-style="normal" fill="#222" >P</text>
<text x="428.30" y="712.60" font-size="9.6" text-anchor="middle" font-weight="normal" font-style="normal" fill="#222" >GZ</text>
<text x="458.10" y="712.60" font-size="9.6" text-anchor="middle" font-weight="normal" font-style="normal" fill="#222" >P</text>
<text x="477.70" y="712.60" font-size="9.6" text-anchor="middle" font-weight="normal" font-style="normal" fill="#222" >GZ</text>
<text x="497.30" y="712.60" font-size="9.6" text-anchor="middle" font-weight="normal" font-style="normal" fill="#222" >A</text>
<text x="527.10" y="712.60" font-size="9.6" text-anchor="middle" font-weight="normal" font-style="normal" fill="#222" >S</text>
<text x="546.70" y="712.60" font-size="9.6" text-anchor="middle" font-weight="normal" font-style="normal" fill="#222" >GZ</text>
<text x="566.30" y="712.60" font-size="9.6" text-anchor="middle" font-weight="normal" font-style="normal" fill="#222" >A</text>
<text x="596.10" y="712.60" font-size="9.6" text-anchor="middle" font-weight="normal" font-style="normal" fill="#222" >S+</text>
<text x="615.70" y="712.60" font-size="9.6" text-anchor="middle" font-weight="normal" font-style="normal" fill="#222" >S-</text>
<text x="635.30" y="712.60" font-size="9.6" text-anchor="middle" font-weight="normal" font-style="normal" fill="#222" >P</text>
<text x="654.90" y="712.60" font-size="9.6" text-anchor="middle" font-weight="normal" font-style="normal" fill="#222" >GZ</text>
<text x="674.50" y="712.60" font-size="9.6" text-anchor="middle" font-weight="normal" font-style="normal" fill="#222" >A</text>
<text x="418.50" y="425.40" font-size="9.7" text-anchor="middle" font-weight="bold" font-style="italic" fill="#222" >S.</text>
<text x="418.50" y="436.40" font-size="9.7" text-anchor="middle" font-weight="bold" font-style="italic" fill="#222" >marinoi</text>
<text x="477.70" y="425.40" font-size="9.7" text-anchor="middle" font-weight="bold" font-style="italic" fill="#222" >C.</text>
<text x="477.70" y="436.40" font-size="9.7" text-anchor="middle" font-weight="bold" font-style="italic" fill="#222" >closterium</text>
<text x="546.70" y="425.40" font-size="9.7" text-anchor="middle" font-weight="bold" font-style="italic" fill="#222" >P.</text>
<text x="546.70" y="436.40" font-size="9.7" text-anchor="middle" font-weight="bold" font-style="italic" fill="#222" >multistriata</text>
<text x="635.30" y="425.40" font-size="9.7" text-anchor="middle" font-weight="bold" font-style="italic" fill="#222" >S.</text>
<text x="635.30" y="436.40" font-size="9.7" text-anchor="middle" font-weight="bold" font-style="italic" fill="#222" >robusta</text>
<text x="548.40" y="724.30" font-size="9.8" text-anchor="middle" font-weight="normal" font-style="normal" fill="#222" >Sexual cell stage</text>
<g transform="translate(375.6,564) rotate(-90)"><text x="0" y="0" font-size="9.8" text-anchor="middle" fill="#222">Sexual cell stage</text></g>
<defs><linearGradient id="gv" x1="0" x2="1" y1="0" y2="0"><stop offset="0%" stop-color="#440154"/><stop offset="10%" stop-color="#482475"/><stop offset="20%" stop-color="#414487"/><stop offset="30%" stop-color="#355f8d"/><stop offset="40%" stop-color="#2a788e"/><stop offset="50%" stop-color="#21918c"/><stop offset="60%" stop-color="#22a884"/><stop offset="70%" stop-color="#44bf70"/><stop offset="80%" stop-color="#7ad151"/><stop offset="90%" stop-color="#bddf26"/><stop offset="100%" stop-color="#fde725"/></linearGradient>
<linearGradient id="gd" x1="0" x2="1" y1="0" y2="0"><stop offset="0.0%" stop-color="#1d4687"/><stop offset="25.0%" stop-color="#2f7dbf"/><stop offset="34.5%" stop-color="#4a96cb"/><stop offset="42.5%" stop-color="#7bb3d9"/><stop offset="46.0%" stop-color="#a9c4db"/><stop offset="50.0%" stop-color="#cfcaca"/><stop offset="53.5%" stop-color="#e2bdb8"/><stop offset="56.0%" stop-color="#f1a39a"/><stop offset="59.0%" stop-color="#f48a7c"/><stop offset="62.5%" stop-color="#f37a6a"/><stop offset="65.0%" stop-color="#f06d5d"/><stop offset="68.0%" stop-color="#e95b4c"/><stop offset="71.0%" stop-color="#e14e40"/><stop offset="75.0%" stop-color="#da3a30"/><stop offset="80.5%" stop-color="#cf2623"/><stop offset="90.0%" stop-color="#bb1a24"/><stop offset="95.0%" stop-color="#ae1427"/><stop offset="100.0%" stop-color="#a20f27"/></linearGradient></defs>
<rect x="425.90" y="769.20" width="87.10" height="13.50" fill="url(#gv)" stroke="none" stroke-width="0" />
<rect x="564.90" y="769.20" width="86.40" height="13.50" fill="url(#gd)" stroke="none" stroke-width="0" />
<line x1="437.50" y1="769.20" x2="437.50" y2="771.90" stroke="#ffffff" stroke-width="0.6" stroke-opacity="0.8"/>
<line x1="437.50" y1="780.00" x2="437.50" y2="782.70" stroke="#ffffff" stroke-width="0.6" stroke-opacity="0.8"/>
<line x1="457.90" y1="769.20" x2="457.90" y2="771.90" stroke="#ffffff" stroke-width="0.6" stroke-opacity="0.8"/>
<line x1="457.90" y1="780.00" x2="457.90" y2="782.70" stroke="#ffffff" stroke-width="0.6" stroke-opacity="0.8"/>
<line x1="475.50" y1="769.20" x2="475.50" y2="771.90" stroke="#ffffff" stroke-width="0.6" stroke-opacity="0.8"/>
<line x1="475.50" y1="780.00" x2="475.50" y2="782.70" stroke="#ffffff" stroke-width="0.6" stroke-opacity="0.8"/>
<line x1="496.30" y1="769.20" x2="496.30" y2="771.90" stroke="#ffffff" stroke-width="0.6" stroke-opacity="0.8"/>
<line x1="496.30" y1="780.00" x2="496.30" y2="782.70" stroke="#ffffff" stroke-width="0.6" stroke-opacity="0.8"/>
<line x1="586.40" y1="769.20" x2="586.40" y2="771.90" stroke="#ffffff" stroke-width="0.6" stroke-opacity="0.8"/>
<line x1="586.40" y1="780.00" x2="586.40" y2="782.70" stroke="#ffffff" stroke-width="0.6" stroke-opacity="0.8"/>
<line x1="608.10" y1="769.20" x2="608.10" y2="771.90" stroke="#ffffff" stroke-width="0.6" stroke-opacity="0.8"/>
<line x1="608.10" y1="780.00" x2="608.10" y2="782.70" stroke="#ffffff" stroke-width="0.6" stroke-opacity="0.8"/>
<line x1="629.70" y1="769.20" x2="629.70" y2="771.90" stroke="#ffffff" stroke-width="0.6" stroke-opacity="0.8"/>
<line x1="629.70" y1="780.00" x2="629.70" y2="782.70" stroke="#ffffff" stroke-width="0.6" stroke-opacity="0.8"/>
<text x="472.80" y="746.30" font-size="9.7" text-anchor="middle" font-weight="bold" font-style="normal" fill="#111" ># shared DE GFs</text>
<g transform="translate(439.1,767.8) rotate(-45)"><text x="0" y="0" font-size="8.9" text-anchor="start" fill="#222">50</text></g>
<g transform="translate(459.5,767.8) rotate(-45)"><text x="0" y="0" font-size="8.9" text-anchor="start" fill="#222">150</text></g>
<g transform="translate(477.1,767.8) rotate(-45)"><text x="0" y="0" font-size="8.9" text-anchor="start" fill="#222">400</text></g>
<g transform="translate(497.90000000000003,767.8) rotate(-45)"><text x="0" y="0" font-size="8.9" text-anchor="start" fill="#222">1250</text></g>
<g transform="translate(514.6,767.8) rotate(-45)"><text x="0" y="0" font-size="8.9" text-anchor="start" fill="#222">3000</text></g>
<text x="609.80" y="743.80" font-size="9.7" text-anchor="middle" font-weight="bold" font-style="normal" fill="#111" >Pearson correlation of</text>
<text x="609.80" y="753.90" font-size="9.7" text-anchor="middle" font-weight="bold" font-style="normal" fill="#111" >shared DE GFs' log2FC</text>
<text x="563.50" y="766.40" font-size="9.1" text-anchor="middle" font-weight="normal" font-style="normal" fill="#222" >-1.0</text>
<text x="585.00" y="766.40" font-size="9.1" text-anchor="middle" font-weight="normal" font-style="normal" fill="#222" >-0.5</text>
<text x="608.10" y="766.40" font-size="9.1" text-anchor="middle" font-weight="normal" font-style="normal" fill="#222" >0.0</text>
<text x="629.70" y="766.40" font-size="9.1" text-anchor="middle" font-weight="normal" font-style="normal" fill="#222" >0.5</text>
<text x="651.30" y="766.40" font-size="9.1" text-anchor="middle" font-weight="normal" font-style="normal" fill="#222" >1.0</text>
</svg></body></html>
